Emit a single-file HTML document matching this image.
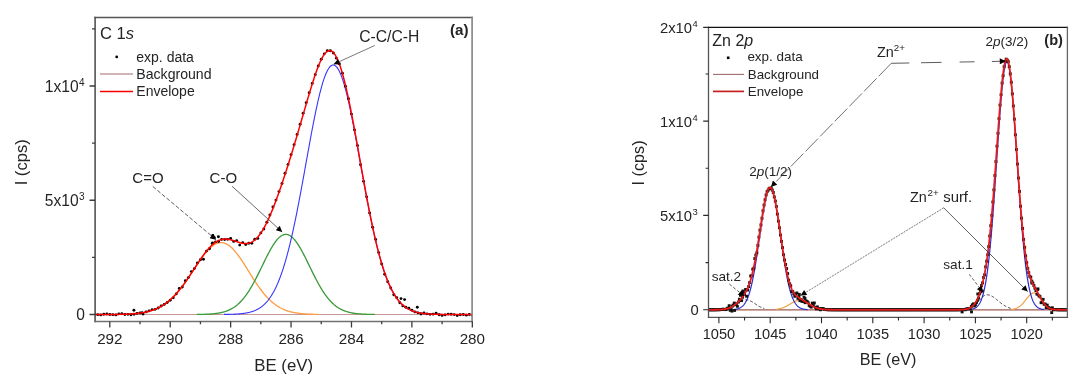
<!DOCTYPE html>
<html><head><meta charset="utf-8"><style>
html,body{margin:0;padding:0;background:#fff;}
body{width:1088px;height:384px;overflow:hidden;}
svg{display:block;filter:blur(0.3px);}
</style></head><body>
<svg width="1088" height="384" viewBox="0 0 1088 384"><defs><clipPath id="cl"><rect x="95.1" y="17.7" width="377.2" height="303.7"/></clipPath><clipPath id="cr"><rect x="708.5" y="27.4" width="358.9" height="289.9"/></clipPath><marker id="ah" viewBox="0 0 10 10" refX="10" refY="5" markerWidth="9" markerHeight="6" markerUnits="userSpaceOnUse" orient="auto"><path d="M0,0 L10,5 L0,10 z" fill="#000"/></marker></defs><g clip-path="url(#cl)"><line x1="95.1" y1="314.5" x2="472.3" y2="314.5" stroke="#c49a9a" stroke-width="1"/><path d="M125.2,314.23 L125.7,314.21 L126.2,314.19 L126.7,314.17 L127.2,314.15 L127.7,314.13 L128.2,314.11 L128.7,314.08 L129.2,314.06 L129.7,314.03 L130.2,314.01 L130.7,313.98 L131.2,313.95 L131.7,313.92 L132.2,313.88 L132.7,313.85 L133.2,313.81 L133.7,313.77 L134.2,313.73 L134.7,313.69 L135.2,313.65 L135.7,313.6 L136.2,313.55 L136.7,313.5 L137.2,313.45 L137.7,313.39 L138.2,313.34 L138.7,313.28 L139.2,313.21 L139.7,313.15 L140.2,313.08 L140.7,313.01 L141.2,312.94 L141.7,312.86 L142.2,312.78 L142.7,312.7 L143.2,312.61 L143.7,312.52 L144.2,312.42 L144.7,312.33 L145.2,312.23 L145.7,312.12 L146.2,312.01 L146.7,311.9 L147.2,311.78 L147.7,311.66 L148.2,311.53 L148.7,311.4 L149.2,311.27 L149.7,311.13 L150.2,310.98 L150.7,310.83 L151.2,310.68 L151.7,310.51 L152.2,310.35 L152.7,310.18 L153.2,310 L153.7,309.82 L154.2,309.63 L154.7,309.43 L155.2,309.23 L155.7,309.03 L156.2,308.81 L156.7,308.59 L157.2,308.37 L157.7,308.13 L158.2,307.89 L158.7,307.65 L159.2,307.39 L159.7,307.13 L160.2,306.86 L160.7,306.58 L161.2,306.3 L161.7,306.01 L162.2,305.71 L162.7,305.4 L163.2,305.09 L163.7,304.76 L164.2,304.43 L164.7,304.09 L165.2,303.74 L165.7,303.39 L166.2,303.02 L166.7,302.65 L167.2,302.26 L167.7,301.87 L168.2,301.47 L168.7,301.06 L169.2,300.64 L169.7,300.21 L170.2,299.78 L170.7,299.33 L171.2,298.87 L171.7,298.41 L172.2,297.94 L172.7,297.45 L173.2,296.96 L173.7,296.46 L174.2,295.95 L174.7,295.43 L175.2,294.89 L175.7,294.36 L176.2,293.81 L176.7,293.25 L177.2,292.68 L177.7,292.11 L178.2,291.52 L178.7,290.93 L179.2,290.32 L179.7,289.71 L180.2,289.09 L180.7,288.47 L181.2,287.83 L181.7,287.18 L182.2,286.53 L182.7,285.87 L183.2,285.2 L183.7,284.53 L184.2,283.84 L184.7,283.15 L185.2,282.46 L185.7,281.76 L186.2,281.05 L186.7,280.33 L187.2,279.61 L187.7,278.88 L188.2,278.15 L188.7,277.42 L189.2,276.68 L189.7,275.94 L190.2,275.19 L190.7,274.44 L191.2,273.69 L191.7,272.93 L192.2,272.17 L192.7,271.41 L193.2,270.65 L193.7,269.89 L194.2,269.13 L194.7,268.37 L195.2,267.62 L195.7,266.86 L196.2,266.1 L196.7,265.35 L197.2,264.6 L197.7,263.85 L198.2,263.11 L198.7,262.37 L199.2,261.64 L199.7,260.91 L200.2,260.19 L200.7,259.47 L201.2,258.77 L201.7,258.07 L202.2,257.38 L202.7,256.7 L203.2,256.02 L203.7,255.36 L204.2,254.71 L204.7,254.07 L205.2,253.45 L205.7,252.83 L206.2,252.23 L206.7,251.64 L207.2,251.07 L207.7,250.51 L208.2,249.97 L208.7,249.44 L209.2,248.93 L209.7,248.43 L210.2,247.96 L210.7,247.5 L211.2,247.05 L211.7,246.63 L212.2,246.23 L212.7,245.84 L213.2,245.48 L213.7,245.14 L214.2,244.81 L214.7,244.51 L215.2,244.23 L215.7,243.97 L216.2,243.73 L216.7,243.52 L217.2,243.33 L217.7,243.16 L218.2,243.01 L218.7,242.89 L219.2,242.79 L219.7,242.71 L220.2,242.66 L220.7,242.63 L221.2,242.62 L221.7,242.64 L222.2,242.68 L222.7,242.74 L223.2,242.83 L223.7,242.94 L224.2,243.08 L224.7,243.24 L225.2,243.42 L225.7,243.62 L226.2,243.85 L226.7,244.1 L227.2,244.38 L227.7,244.67 L228.2,244.99 L228.7,245.33 L229.2,245.69 L229.7,246.07 L230.2,246.47 L230.7,246.9 L231.2,247.34 L231.7,247.8 L232.2,248.28 L232.7,248.78 L233.2,249.3 L233.7,249.84 L234.2,250.39 L234.7,250.96 L235.2,251.55 L235.7,252.15 L236.2,252.77 L236.7,253.4 L237.2,254.04 L237.7,254.7 L238.2,255.38 L238.7,256.06 L239.2,256.76 L239.7,257.46 L240.2,258.18 L240.7,258.91 L241.2,259.64 L241.7,260.39 L242.2,261.14 L242.7,261.9 L243.2,262.67 L243.7,263.44 L244.2,264.22 L244.7,265.01 L245.2,265.8 L245.7,266.59 L246.2,267.38 L246.7,268.18 L247.2,268.98 L247.7,269.78 L248.2,270.59 L248.7,271.39 L249.2,272.19 L249.7,272.99 L250.2,273.79 L250.7,274.59 L251.2,275.39 L251.7,276.18 L252.2,276.97 L252.7,277.76 L253.2,278.54 L253.7,279.32 L254.2,280.09 L254.7,280.86 L255.2,281.62 L255.7,282.37 L256.2,283.12 L256.7,283.86 L257.2,284.6 L257.7,285.33 L258.2,286.04 L258.7,286.75 L259.2,287.46 L259.7,288.15 L260.2,288.83 L260.7,289.51 L261.2,290.18 L261.7,290.83 L262.2,291.48 L262.7,292.11 L263.2,292.74 L263.7,293.36 L264.2,293.96 L264.7,294.56 L265.2,295.14 L265.7,295.71 L266.2,296.28 L266.7,296.83 L267.2,297.37 L267.7,297.9 L268.2,298.42 L268.7,298.93 L269.2,299.43 L269.7,299.91 L270.2,300.39 L270.7,300.85 L271.2,301.31 L271.7,301.75 L272.2,302.18 L272.7,302.61 L273.2,303.02 L273.7,303.42 L274.2,303.81 L274.7,304.19 L275.2,304.56 L275.7,304.92 L276.2,305.27 L276.7,305.61 L277.2,305.94 L277.7,306.27 L278.2,306.58 L278.7,306.88 L279.2,307.17 L279.7,307.46 L280.2,307.74 L280.7,308 L281.2,308.26 L281.7,308.51 L282.2,308.76 L282.7,308.99 L283.2,309.22 L283.7,309.44 L284.2,309.65 L284.7,309.85 L285.2,310.05 L285.7,310.24 L286.2,310.43 L286.7,310.6 L287.2,310.77 L287.7,310.94 L288.2,311.1 L288.7,311.25 L289.2,311.4 L289.7,311.54 L290.2,311.67 L290.7,311.8 L291.2,311.93 L291.7,312.05 L292.2,312.16 L292.7,312.28 L293.2,312.38 L293.7,312.48 L294.2,312.58 L294.7,312.67 L295.2,312.76 L295.7,312.85 L296.2,312.93 L296.7,313.01 L297.2,313.09 L297.7,313.16 L298.2,313.23 L298.7,313.29 L299.2,313.35 L299.7,313.41 L300.2,313.47 L300.7,313.52 L301.2,313.58 L301.7,313.63 L302.2,313.67 L302.7,313.72 L303.2,313.76 L303.7,313.8 L304.2,313.84 L304.7,313.87 L305.2,313.91 L305.7,313.94 L306.2,313.97 L306.7,314 L307.2,314.03 L307.7,314.06 L308.2,314.08 L308.7,314.11 L309.2,314.13 L309.7,314.15 L310.2,314.17 L310.7,314.19 L311.2,314.21 L311.7,314.23 L312.2,314.24 L312.7,314.26 L313.2,314.27 L313.7,314.29 L314.2,314.3 L314.7,314.31 L315.2,314.32 L315.7,314.34 L316.2,314.35 L316.7,314.36 L317.2,314.36 L317.7,314.37" fill="none" stroke="#ff9a40" stroke-width="1.3"/><path d="M196.8,314.43 L197.3,314.43 L197.8,314.42 L198.3,314.42 L198.8,314.41 L199.3,314.4 L199.8,314.4 L200.3,314.39 L200.8,314.38 L201.3,314.37 L201.8,314.36 L202.3,314.35 L202.8,314.33 L203.3,314.32 L203.8,314.31 L204.3,314.29 L204.8,314.28 L205.3,314.26 L205.8,314.24 L206.3,314.22 L206.8,314.2 L207.3,314.18 L207.8,314.16 L208.3,314.14 L208.8,314.11 L209.3,314.08 L209.8,314.05 L210.3,314.02 L210.8,313.99 L211.3,313.95 L211.8,313.91 L212.3,313.87 L212.8,313.83 L213.3,313.78 L213.8,313.74 L214.3,313.69 L214.8,313.63 L215.3,313.58 L215.8,313.52 L216.3,313.45 L216.8,313.38 L217.3,313.31 L217.8,313.24 L218.3,313.16 L218.8,313.08 L219.3,312.99 L219.8,312.9 L220.3,312.8 L220.8,312.7 L221.3,312.59 L221.8,312.47 L222.3,312.35 L222.8,312.23 L223.3,312.1 L223.8,311.96 L224.3,311.81 L224.8,311.66 L225.3,311.5 L225.8,311.34 L226.3,311.16 L226.8,310.98 L227.3,310.79 L227.8,310.59 L228.3,310.38 L228.8,310.17 L229.3,309.94 L229.8,309.7 L230.3,309.46 L230.8,309.2 L231.3,308.93 L231.8,308.66 L232.3,308.37 L232.8,308.07 L233.3,307.75 L233.8,307.43 L234.3,307.09 L234.8,306.75 L235.3,306.38 L235.8,306.01 L236.3,305.62 L236.8,305.22 L237.3,304.81 L237.8,304.38 L238.3,303.93 L238.8,303.47 L239.3,303 L239.8,302.51 L240.3,302.01 L240.8,301.49 L241.3,300.96 L241.8,300.41 L242.3,299.85 L242.8,299.27 L243.3,298.67 L243.8,298.06 L244.3,297.43 L244.8,296.79 L245.3,296.13 L245.8,295.45 L246.3,294.76 L246.8,294.05 L247.3,293.33 L247.8,292.59 L248.3,291.83 L248.8,291.06 L249.3,290.28 L249.8,289.48 L250.3,288.66 L250.8,287.83 L251.3,286.98 L251.8,286.13 L252.3,285.25 L252.8,284.37 L253.3,283.47 L253.8,282.56 L254.3,281.63 L254.8,280.7 L255.3,279.75 L255.8,278.79 L256.3,277.83 L256.8,276.85 L257.3,275.87 L257.8,274.88 L258.3,273.88 L258.8,272.87 L259.3,271.86 L259.8,270.84 L260.3,269.82 L260.8,268.8 L261.3,267.77 L261.8,266.74 L262.3,265.71 L262.8,264.68 L263.3,263.65 L263.8,262.63 L264.3,261.61 L264.8,260.59 L265.3,259.57 L265.8,258.57 L266.3,257.56 L266.8,256.57 L267.3,255.59 L267.8,254.62 L268.3,253.65 L268.8,252.7 L269.3,251.77 L269.8,250.85 L270.3,249.94 L270.8,249.05 L271.3,248.18 L271.8,247.32 L272.3,246.49 L272.8,245.68 L273.3,244.88 L273.8,244.11 L274.3,243.37 L274.8,242.64 L275.3,241.95 L275.8,241.28 L276.3,240.63 L276.8,240.02 L277.3,239.43 L277.8,238.87 L278.3,238.34 L278.8,237.85 L279.3,237.38 L279.8,236.95 L280.3,236.55 L280.8,236.18 L281.3,235.84 L281.8,235.54 L282.3,235.28 L282.8,235.04 L283.3,234.85 L283.8,234.69 L284.3,234.56 L284.8,234.47 L285.3,234.42 L285.8,234.4 L286.3,234.42 L286.8,234.47 L287.3,234.56 L287.8,234.69 L288.3,234.85 L288.8,235.04 L289.3,235.28 L289.8,235.54 L290.3,235.84 L290.8,236.18 L291.3,236.55 L291.8,236.95 L292.3,237.38 L292.8,237.85 L293.3,238.34 L293.8,238.87 L294.3,239.43 L294.8,240.02 L295.3,240.63 L295.8,241.28 L296.3,241.95 L296.8,242.64 L297.3,243.37 L297.8,244.11 L298.3,244.88 L298.8,245.68 L299.3,246.49 L299.8,247.32 L300.3,248.18 L300.8,249.05 L301.3,249.94 L301.8,250.85 L302.3,251.77 L302.8,252.7 L303.3,253.65 L303.8,254.62 L304.3,255.59 L304.8,256.57 L305.3,257.56 L305.8,258.57 L306.3,259.57 L306.8,260.59 L307.3,261.61 L307.8,262.63 L308.3,263.65 L308.8,264.68 L309.3,265.71 L309.8,266.74 L310.3,267.77 L310.8,268.8 L311.3,269.82 L311.8,270.84 L312.3,271.86 L312.8,272.87 L313.3,273.88 L313.8,274.88 L314.3,275.87 L314.8,276.85 L315.3,277.83 L315.8,278.79 L316.3,279.75 L316.8,280.7 L317.3,281.63 L317.8,282.56 L318.3,283.47 L318.8,284.37 L319.3,285.25 L319.8,286.13 L320.3,286.98 L320.8,287.83 L321.3,288.66 L321.8,289.48 L322.3,290.28 L322.8,291.06 L323.3,291.83 L323.8,292.59 L324.3,293.33 L324.8,294.05 L325.3,294.76 L325.8,295.45 L326.3,296.13 L326.8,296.79 L327.3,297.43 L327.8,298.06 L328.3,298.67 L328.8,299.27 L329.3,299.85 L329.8,300.41 L330.3,300.96 L330.8,301.49 L331.3,302.01 L331.8,302.51 L332.3,303 L332.8,303.47 L333.3,303.93 L333.8,304.38 L334.3,304.81 L334.8,305.22 L335.3,305.62 L335.8,306.01 L336.3,306.38 L336.8,306.75 L337.3,307.09 L337.8,307.43 L338.3,307.75 L338.8,308.07 L339.3,308.37 L339.8,308.66 L340.3,308.93 L340.8,309.2 L341.3,309.46 L341.8,309.7 L342.3,309.94 L342.8,310.17 L343.3,310.38 L343.8,310.59 L344.3,310.79 L344.8,310.98 L345.3,311.16 L345.8,311.34 L346.3,311.5 L346.8,311.66 L347.3,311.81 L347.8,311.96 L348.3,312.1 L348.8,312.23 L349.3,312.35 L349.8,312.47 L350.3,312.59 L350.8,312.7 L351.3,312.8 L351.8,312.9 L352.3,312.99 L352.8,313.08 L353.3,313.16 L353.8,313.24 L354.3,313.31 L354.8,313.38 L355.3,313.45 L355.8,313.52 L356.3,313.58 L356.8,313.63 L357.3,313.69 L357.8,313.74 L358.3,313.78 L358.8,313.83 L359.3,313.87 L359.8,313.91 L360.3,313.95 L360.8,313.99 L361.3,314.02 L361.8,314.05 L362.3,314.08 L362.8,314.11 L363.3,314.14 L363.8,314.16 L364.3,314.18 L364.8,314.2 L365.3,314.22 L365.8,314.24 L366.3,314.26 L366.8,314.28 L367.3,314.29 L367.8,314.31 L368.3,314.32 L368.8,314.33 L369.3,314.35 L369.8,314.36 L370.3,314.37 L370.8,314.38 L371.3,314.39 L371.8,314.4 L372.3,314.4 L372.8,314.41 L373.3,314.42 L373.8,314.42 L374.3,314.43 L374.8,314.43" fill="none" stroke="#379a37" stroke-width="1.3"/><path d="M224,314.42 L224.5,314.42 L225,314.41 L225.5,314.4 L226,314.39 L226.5,314.39 L227,314.38 L227.5,314.37 L228,314.36 L228.5,314.35 L229,314.34 L229.5,314.33 L230,314.31 L230.5,314.3 L231,314.29 L231.5,314.27 L232,314.25 L232.5,314.24 L233,314.22 L233.5,314.2 L234,314.18 L234.5,314.15 L235,314.13 L235.5,314.11 L236,314.08 L236.5,314.05 L237,314.02 L237.5,313.99 L238,313.95 L238.5,313.92 L239,313.88 L239.5,313.84 L240,313.8 L240.5,313.75 L241,313.7 L241.5,313.65 L242,313.6 L242.5,313.54 L243,313.48 L243.5,313.41 L244,313.35 L244.5,313.28 L245,313.2 L245.5,313.12 L246,313.04 L246.5,312.95 L247,312.85 L247.5,312.76 L248,312.65 L248.5,312.54 L249,312.43 L249.5,312.31 L250,312.18 L250.5,312.05 L251,311.91 L251.5,311.76 L252,311.6 L252.5,311.44 L253,311.27 L253.5,311.09 L254,310.9 L254.5,310.71 L255,310.5 L255.5,310.28 L256,310.06 L256.5,309.82 L257,309.57 L257.5,309.31 L258,309.04 L258.5,308.76 L259,308.46 L259.5,308.15 L260,307.83 L260.5,307.49 L261,307.14 L261.5,306.77 L262,306.39 L262.5,305.99 L263,305.57 L263.5,305.14 L264,304.69 L264.5,304.22 L265,303.74 L265.5,303.23 L266,302.71 L266.5,302.16 L267,301.59 L267.5,301.01 L268,300.4 L268.5,299.76 L269,299.11 L269.5,298.43 L270,297.72 L270.5,296.99 L271,296.24 L271.5,295.46 L272,294.65 L272.5,293.82 L273,292.95 L273.5,292.06 L274,291.14 L274.5,290.19 L275,289.21 L275.5,288.2 L276,287.16 L276.5,286.09 L277,284.98 L277.5,283.85 L278,282.68 L278.5,281.47 L279,280.23 L279.5,278.96 L280,277.65 L280.5,276.31 L281,274.93 L281.5,273.52 L282,272.07 L282.5,270.58 L283,269.06 L283.5,267.5 L284,265.9 L284.5,264.27 L285,262.6 L285.5,260.89 L286,259.14 L286.5,257.36 L287,255.53 L287.5,253.67 L288,251.78 L288.5,249.84 L289,247.87 L289.5,245.86 L290,243.82 L290.5,241.73 L291,239.62 L291.5,237.46 L292,235.27 L292.5,233.05 L293,230.79 L293.5,228.5 L294,226.18 L294.5,223.82 L295,221.44 L295.5,219.02 L296,216.57 L296.5,214.1 L297,211.59 L297.5,209.06 L298,206.5 L298.5,203.92 L299,201.32 L299.5,198.69 L300,196.04 L300.5,193.38 L301,190.69 L301.5,187.99 L302,185.27 L302.5,182.54 L303,179.8 L303.5,177.04 L304,174.28 L304.5,171.51 L305,168.73 L305.5,165.95 L306,163.17 L306.5,160.39 L307,157.61 L307.5,154.83 L308,152.06 L308.5,149.3 L309,146.55 L309.5,143.81 L310,141.08 L310.5,138.37 L311,135.68 L311.5,133.01 L312,130.36 L312.5,127.73 L313,125.13 L313.5,122.56 L314,120.02 L314.5,117.51 L315,115.04 L315.5,112.61 L316,110.21 L316.5,107.86 L317,105.55 L317.5,103.29 L318,101.07 L318.5,98.9 L319,96.79 L319.5,94.72 L320,92.72 L320.5,90.77 L321,88.88 L321.5,87.05 L322,85.28 L322.5,83.58 L323,81.94 L323.5,80.37 L324,78.87 L324.5,77.44 L325,76.08 L325.5,74.8 L326,73.59 L326.5,72.46 L327,71.4 L327.5,70.42 L328,69.52 L328.5,68.7 L329,67.96 L329.5,67.3 L330,66.72 L330.5,66.23 L331,65.81 L331.5,65.49 L332,65.24 L332.5,65.08 L333,65.01 L333.5,65.02 L334,65.11 L334.5,65.28 L335,65.55 L335.5,65.89 L336,66.32 L336.5,66.83 L337,67.42 L337.5,68.1 L338,68.85 L338.5,69.69 L339,70.61 L339.5,71.6 L340,72.68 L340.5,73.83 L341,75.05 L341.5,76.35 L342,77.72 L342.5,79.17 L343,80.68 L343.5,82.26 L344,83.91 L344.5,85.63 L345,87.41 L345.5,89.25 L346,91.15 L346.5,93.11 L347,95.13 L347.5,97.2 L348,99.33 L348.5,101.51 L349,103.73 L349.5,106.01 L350,108.33 L350.5,110.69 L351,113.09 L351.5,115.53 L352,118.01 L352.5,120.53 L353,123.07 L353.5,125.65 L354,128.25 L354.5,130.88 L355,133.54 L355.5,136.22 L356,138.91 L356.5,141.63 L357,144.36 L357.5,147.1 L358,149.85 L358.5,152.62 L359,155.39 L359.5,158.17 L360,160.95 L360.5,163.73 L361,166.51 L361.5,169.29 L362,172.06 L362.5,174.83 L363,177.59 L363.5,180.35 L364,183.09 L364.5,185.82 L365,188.53 L365.5,191.23 L366,193.91 L366.5,196.58 L367,199.22 L367.5,201.84 L368,204.44 L368.5,207.02 L369,209.57 L369.5,212.1 L370,214.59 L370.5,217.06 L371,219.51 L371.5,221.92 L372,224.3 L372.5,226.65 L373,228.96 L373.5,231.25 L374,233.5 L374.5,235.72 L375,237.9 L375.5,240.04 L376,242.15 L376.5,244.23 L377,246.27 L377.5,248.27 L378,250.23 L378.5,252.16 L379,254.05 L379.5,255.9 L380,257.72 L380.5,259.49 L381,261.23 L381.5,262.94 L382,264.6 L382.5,266.23 L383,267.82 L383.5,269.37 L384,270.88 L384.5,272.36 L385,273.81 L385.5,275.21 L386,276.58 L386.5,277.92 L387,279.22 L387.5,280.48 L388,281.72 L388.5,282.91 L389,284.08 L389.5,285.21 L390,286.31 L390.5,287.37 L391,288.41 L391.5,289.41 L392,290.38 L392.5,291.33 L393,292.24 L393.5,293.13 L394,293.98 L394.5,294.81 L395,295.62 L395.5,296.39 L396,297.14 L396.5,297.86 L397,298.56 L397.5,299.24 L398,299.89 L398.5,300.52 L399,301.12 L399.5,301.71 L400,302.27 L400.5,302.81 L401,303.33 L401.5,303.84 L402,304.32 L402.5,304.78 L403,305.23 L403.5,305.66 L404,306.07 L404.5,306.47 L405,306.84 L405.5,307.21 L406,307.56 L406.5,307.89 L407,308.21 L407.5,308.52 L408,308.81 L408.5,309.09 L409,309.36 L409.5,309.62 L410,309.87 L410.5,310.1 L411,310.33 L411.5,310.54 L412,310.75 L412.5,310.94 L413,311.13 L413.5,311.3 L414,311.47 L414.5,311.64 L415,311.79 L415.5,311.94 L416,312.07 L416.5,312.21 L417,312.33 L417.5,312.45 L418,312.57 L418.5,312.67 L419,312.78 L419.5,312.87 L420,312.97 L420.5,313.05 L421,313.14 L421.5,313.22 L422,313.29 L422.5,313.36 L423,313.43 L423.5,313.49 L424,313.55 L424.5,313.61 L425,313.66 L425.5,313.71 L426,313.76 L426.5,313.8 L427,313.85 L427.5,313.89 L428,313.93 L428.5,313.96 L429,313.99 L429.5,314.03 L430,314.06 L430.5,314.08 L431,314.11 L431.5,314.14 L432,314.16 L432.5,314.18 L433,314.2 L433.5,314.22 L434,314.24 L434.5,314.26 L435,314.27 L435.5,314.29 L436,314.3 L436.5,314.32 L437,314.33 L437.5,314.34 L438,314.35 L438.5,314.36 L439,314.37 L439.5,314.38 L440,314.39 L440.5,314.4 L441,314.4 L441.5,314.41 L442,314.42" fill="none" stroke="#3535ff" stroke-width="1.1"/><g fill="#000"><circle cx="94.69" cy="314" r="1.45"/><circle cx="97.72" cy="314.65" r="1.45"/><circle cx="100.74" cy="314.9" r="1.45"/><circle cx="103.76" cy="314.27" r="1.45"/><circle cx="106.78" cy="313.93" r="1.45"/><circle cx="109.8" cy="314.44" r="1.45"/><circle cx="112.82" cy="314.65" r="1.45"/><circle cx="115.84" cy="314.89" r="1.45"/><circle cx="118.86" cy="313.84" r="1.45"/><circle cx="121.88" cy="313.74" r="1.45"/><circle cx="124.91" cy="314.56" r="1.45"/><circle cx="127.93" cy="314.34" r="1.45"/><circle cx="130.95" cy="314.7" r="1.45"/><circle cx="133.97" cy="314.24" r="1.45"/><circle cx="136.99" cy="313.42" r="1.45"/><circle cx="140.01" cy="312.96" r="1.45"/><circle cx="143.03" cy="314.05" r="1.45"/><circle cx="146.05" cy="311.88" r="1.45"/><circle cx="149.07" cy="310.83" r="1.45"/><circle cx="152.09" cy="309.67" r="1.45"/><circle cx="155.12" cy="309.33" r="1.45"/><circle cx="158.14" cy="308.02" r="1.45"/><circle cx="161.16" cy="306.07" r="1.45"/><circle cx="164.18" cy="304.39" r="1.45"/><circle cx="167.2" cy="302.46" r="1.45"/><circle cx="170.22" cy="300.3" r="1.45"/><circle cx="173.24" cy="297.83" r="1.45"/><circle cx="176.26" cy="293.88" r="1.45"/><circle cx="179.28" cy="288.48" r="1.45"/><circle cx="182.3" cy="287" r="1.45"/><circle cx="185.33" cy="280.72" r="1.45"/><circle cx="188.35" cy="277.62" r="1.45"/><circle cx="191.37" cy="271.62" r="1.45"/><circle cx="194.39" cy="268.61" r="1.45"/><circle cx="197.41" cy="263.04" r="1.45"/><circle cx="200.43" cy="259.69" r="1.45"/><circle cx="203.45" cy="259.24" r="1.45"/><circle cx="206.47" cy="251.09" r="1.45"/><circle cx="209.49" cy="248.73" r="1.45"/><circle cx="212.51" cy="242.9" r="1.45"/><circle cx="215.54" cy="241.89" r="1.45"/><circle cx="218.56" cy="241.45" r="1.45"/><circle cx="221.58" cy="239.38" r="1.45"/><circle cx="224.6" cy="239.57" r="1.45"/><circle cx="227.62" cy="239.34" r="1.45"/><circle cx="230.64" cy="238.42" r="1.45"/><circle cx="233.66" cy="241.41" r="1.45"/><circle cx="236.68" cy="240.58" r="1.45"/><circle cx="239.7" cy="245.11" r="1.45"/><circle cx="242.72" cy="242.64" r="1.45"/><circle cx="245.75" cy="244.46" r="1.45"/><circle cx="248.77" cy="243.18" r="1.45"/><circle cx="251.79" cy="243.3" r="1.45"/><circle cx="254.81" cy="239.18" r="1.45"/><circle cx="257.83" cy="238.38" r="1.45"/><circle cx="260.85" cy="232.9" r="1.45"/><circle cx="263.87" cy="228.97" r="1.45"/><circle cx="266.89" cy="222.3" r="1.45"/><circle cx="269.91" cy="215.02" r="1.45"/><circle cx="272.93" cy="207.06" r="1.45"/><circle cx="275.96" cy="200.12" r="1.45"/><circle cx="278.98" cy="191.59" r="1.45"/><circle cx="282" cy="183.54" r="1.45"/><circle cx="285.02" cy="173.24" r="1.45"/><circle cx="288.04" cy="164.41" r="1.45"/><circle cx="291.06" cy="154.74" r="1.45"/><circle cx="294.08" cy="144.71" r="1.45"/><circle cx="297.1" cy="134.55" r="1.45"/><circle cx="300.12" cy="124.22" r="1.45"/><circle cx="303.14" cy="113.32" r="1.45"/><circle cx="306.17" cy="102.63" r="1.45"/><circle cx="309.19" cy="92.71" r="1.45"/><circle cx="312.21" cy="83.38" r="1.45"/><circle cx="315.23" cy="74.66" r="1.45"/><circle cx="318.25" cy="66.06" r="1.45"/><circle cx="321.27" cy="59.19" r="1.45"/><circle cx="324.29" cy="53.86" r="1.45"/><circle cx="327.31" cy="50.76" r="1.45"/><circle cx="330.33" cy="50.79" r="1.45"/><circle cx="333.35" cy="53.03" r="1.45"/><circle cx="336.38" cy="58.13" r="1.45"/><circle cx="339.4" cy="63.91" r="1.45"/><circle cx="342.42" cy="73.13" r="1.45"/><circle cx="345.44" cy="86.3" r="1.45"/><circle cx="348.46" cy="98.71" r="1.45"/><circle cx="351.48" cy="114.08" r="1.45"/><circle cx="354.5" cy="130.07" r="1.45"/><circle cx="357.52" cy="145.62" r="1.45"/><circle cx="360.54" cy="164.8" r="1.45"/><circle cx="363.56" cy="181.34" r="1.45"/><circle cx="366.59" cy="196.85" r="1.45"/><circle cx="369.61" cy="212.9" r="1.45"/><circle cx="372.63" cy="227.3" r="1.45"/><circle cx="375.65" cy="239.4" r="1.45"/><circle cx="378.67" cy="252.61" r="1.45"/><circle cx="381.69" cy="263.98" r="1.45"/><circle cx="384.71" cy="274.19" r="1.45"/><circle cx="387.73" cy="281.78" r="1.45"/><circle cx="390.75" cy="287.95" r="1.45"/><circle cx="393.77" cy="294.82" r="1.45"/><circle cx="396.8" cy="297.64" r="1.45"/><circle cx="399.82" cy="302.69" r="1.45"/><circle cx="402.84" cy="305.91" r="1.45"/><circle cx="405.86" cy="307.26" r="1.45"/><circle cx="408.88" cy="308.13" r="1.45"/><circle cx="411.9" cy="310.15" r="1.45"/><circle cx="414.92" cy="311.9" r="1.45"/><circle cx="417.94" cy="312.85" r="1.45"/><circle cx="420.96" cy="313.95" r="1.45"/><circle cx="423.98" cy="313.04" r="1.45"/><circle cx="427.01" cy="313.85" r="1.45"/><circle cx="430.03" cy="314.36" r="1.45"/><circle cx="433.05" cy="314.13" r="1.45"/><circle cx="436.07" cy="313.24" r="1.45"/><circle cx="439.09" cy="314.73" r="1.45"/><circle cx="442.11" cy="315.42" r="1.45"/><circle cx="445.13" cy="314.87" r="1.45"/><circle cx="448.15" cy="314.08" r="1.45"/><circle cx="451.17" cy="314.31" r="1.45"/><circle cx="454.19" cy="314.58" r="1.45"/><circle cx="457.22" cy="315.51" r="1.45"/><circle cx="460.24" cy="314.75" r="1.45"/><circle cx="463.26" cy="314.54" r="1.45"/><circle cx="466.28" cy="315.13" r="1.45"/><circle cx="469.3" cy="314.47" r="1.45"/><circle cx="472.32" cy="315.25" r="1.45"/><circle cx="212.7" cy="235.4" r="1.45"/><circle cx="214.3" cy="237.6" r="1.45"/><circle cx="218.4" cy="236.8" r="1.45"/><circle cx="212.2" cy="243.6" r="1.45"/><circle cx="133.9" cy="310.3" r="1.45"/><circle cx="142" cy="312.6" r="1.45"/><circle cx="401" cy="298.6" r="1.45"/><circle cx="404.6" cy="299.6" r="1.45"/><circle cx="417.3" cy="307.3" r="1.45"/></g><path d="M95.1,314.5 L95.6,314.5 L96.1,314.5 L96.6,314.5 L97.1,314.5 L97.6,314.5 L98.1,314.49 L98.6,314.49 L99.1,314.49 L99.6,314.49 L100.1,314.49 L100.6,314.49 L101.1,314.49 L101.6,314.49 L102.1,314.49 L102.6,314.49 L103.1,314.49 L103.6,314.49 L104.1,314.49 L104.6,314.48 L105.1,314.48 L105.6,314.48 L106.1,314.48 L106.6,314.48 L107.1,314.48 L107.6,314.48 L108.1,314.47 L108.6,314.47 L109.1,314.47 L109.6,314.47 L110.1,314.46 L110.6,314.46 L111.1,314.46 L111.6,314.46 L112.1,314.45 L112.6,314.45 L113.1,314.44 L113.6,314.44 L114.1,314.44 L114.6,314.43 L115.1,314.43 L115.6,314.42 L116.1,314.42 L116.6,314.41 L117.1,314.4 L117.6,314.4 L118.1,314.39 L118.6,314.38 L119.1,314.37 L119.6,314.36 L120.1,314.36 L120.6,314.35 L121.1,314.34 L121.6,314.32 L122.1,314.31 L122.6,314.3 L123.1,314.29 L123.6,314.27 L124.1,314.26 L124.6,314.24 L125.1,314.23 L125.6,314.21 L126.1,314.19 L126.6,314.18 L127.1,314.16 L127.6,314.13 L128.1,314.11 L128.6,314.09 L129.1,314.06 L129.6,314.04 L130.1,314.01 L130.6,313.98 L131.1,313.95 L131.6,313.92 L132.1,313.89 L132.6,313.85 L133.1,313.82 L133.6,313.78 L134.1,313.74 L134.6,313.7 L135.1,313.65 L135.6,313.61 L136.1,313.56 L136.6,313.51 L137.1,313.46 L137.6,313.4 L138.1,313.35 L138.6,313.29 L139.1,313.23 L139.6,313.16 L140.1,313.09 L140.6,313.02 L141.1,312.95 L141.6,312.87 L142.1,312.79 L142.6,312.71 L143.1,312.62 L143.6,312.54 L144.1,312.44 L144.6,312.35 L145.1,312.24 L145.6,312.14 L146.1,312.03 L146.6,311.92 L147.1,311.8 L147.6,311.68 L148.1,311.56 L148.6,311.43 L149.1,311.29 L149.6,311.15 L150.1,311.01 L150.6,310.86 L151.1,310.7 L151.6,310.54 L152.1,310.38 L152.6,310.21 L153.1,310.03 L153.6,309.85 L154.1,309.66 L154.6,309.47 L155.1,309.27 L155.6,309.06 L156.1,308.85 L156.6,308.63 L157.1,308.41 L157.6,308.17 L158.1,307.93 L158.6,307.69 L159.1,307.43 L159.6,307.17 L160.1,306.91 L160.6,306.63 L161.1,306.35 L161.6,306.06 L162.1,305.76 L162.6,305.45 L163.1,305.14 L163.6,304.82 L164.1,304.49 L164.6,304.15 L165.1,303.8 L165.6,303.44 L166.1,303.08 L166.6,302.7 L167.1,302.32 L167.6,301.93 L168.1,301.53 L168.6,301.12 L169.1,300.7 L169.6,300.28 L170.1,299.84 L170.6,299.39 L171.1,298.94 L171.6,298.48 L172.1,298 L172.6,297.52 L173.1,297.03 L173.6,296.52 L174.1,296.01 L174.6,295.49 L175.1,294.96 L175.6,294.42 L176.1,293.87 L176.6,293.32 L177.1,292.75 L177.6,292.17 L178.1,291.59 L178.6,290.99 L179.1,290.39 L179.6,289.77 L180.1,289.15 L180.6,288.52 L181.1,287.88 L181.6,287.24 L182.1,286.58 L182.6,285.92 L183.1,285.25 L183.6,284.57 L184.1,283.89 L184.6,283.19 L185.1,282.49 L185.6,281.79 L186.1,281.07 L186.6,280.35 L187.1,279.63 L187.6,278.9 L188.1,278.16 L188.6,277.42 L189.1,276.68 L189.6,275.93 L190.1,275.17 L190.6,274.42 L191.1,273.65 L191.6,272.89 L192.1,272.13 L192.6,271.36 L193.1,270.59 L193.6,269.82 L194.1,269.05 L194.6,268.28 L195.1,267.51 L195.6,266.73 L196.1,265.97 L196.6,265.2 L197.1,264.43 L197.6,263.67 L198.1,262.91 L198.6,262.16 L199.1,261.4 L199.6,260.66 L200.1,259.92 L200.6,259.18 L201.1,258.45 L201.6,257.73 L202.1,257.01 L202.6,256.31 L203.1,255.61 L203.6,254.92 L204.1,254.24 L204.6,253.57 L205.1,252.91 L205.6,252.26 L206.1,251.62 L206.6,251 L207.1,250.38 L207.6,249.78 L208.1,249.2 L208.6,248.62 L209.1,248.06 L209.6,247.52 L210.1,246.99 L210.6,246.47 L211.1,245.97 L211.6,245.49 L212.1,245.02 L212.6,244.57 L213.1,244.14 L213.6,243.72 L214.1,243.33 L214.6,242.94 L215.1,242.58 L215.6,242.24 L216.1,241.91 L216.6,241.6 L217.1,241.31 L217.6,241.03 L218.1,240.78 L218.6,240.54 L219.1,240.32 L219.6,240.12 L220.1,239.94 L220.6,239.77 L221.1,239.63 L221.6,239.5 L222.1,239.38 L222.6,239.29 L223.1,239.21 L223.6,239.15 L224.1,239.1 L224.6,239.07 L225.1,239.06 L225.6,239.06 L226.1,239.07 L226.6,239.1 L227.1,239.14 L227.6,239.2 L228.1,239.27 L228.6,239.35 L229.1,239.44 L229.6,239.54 L230.1,239.65 L230.6,239.77 L231.1,239.9 L231.6,240.03 L232.1,240.17 L232.6,240.32 L233.1,240.48 L233.6,240.64 L234.1,240.8 L234.6,240.96 L235.1,241.13 L235.6,241.3 L236.1,241.47 L236.6,241.64 L237.1,241.81 L237.6,241.97 L238.1,242.13 L238.6,242.29 L239.1,242.44 L239.6,242.59 L240.1,242.73 L240.6,242.86 L241.1,242.98 L241.6,243.09 L242.1,243.2 L242.6,243.29 L243.1,243.37 L243.6,243.44 L244.1,243.49 L244.6,243.53 L245.1,243.55 L245.6,243.56 L246.1,243.55 L246.6,243.52 L247.1,243.47 L247.6,243.41 L248.1,243.32 L248.6,243.21 L249.1,243.09 L249.6,242.94 L250.1,242.77 L250.6,242.58 L251.1,242.36 L251.6,242.12 L252.1,241.86 L252.6,241.57 L253.1,241.26 L253.6,240.92 L254.1,240.55 L254.6,240.16 L255.1,239.75 L255.6,239.31 L256.1,238.84 L256.6,238.35 L257.1,237.82 L257.6,237.28 L258.1,236.7 L258.6,236.1 L259.1,235.47 L259.6,234.82 L260.1,234.14 L260.6,233.43 L261.1,232.7 L261.6,231.94 L262.1,231.16 L262.6,230.35 L263.1,229.51 L263.6,228.65 L264.1,227.77 L264.6,226.86 L265.1,225.93 L265.6,224.97 L266.1,223.99 L266.6,222.99 L267.1,221.97 L267.6,220.92 L268.1,219.85 L268.6,218.77 L269.1,217.66 L269.6,216.53 L270.1,215.38 L270.6,214.21 L271.1,213.03 L271.6,211.83 L272.1,210.6 L272.6,209.37 L273.1,208.11 L273.6,206.84 L274.1,205.56 L274.6,204.26 L275.1,202.94 L275.6,201.61 L276.1,200.27 L276.6,198.92 L277.1,197.55 L277.6,196.17 L278.1,194.77 L278.6,193.37 L279.1,191.96 L279.6,190.53 L280.1,189.09 L280.6,187.65 L281.1,186.19 L281.6,184.72 L282.1,183.25 L282.6,181.76 L283.1,180.27 L283.6,178.77 L284.1,177.26 L284.6,175.74 L285.1,174.21 L285.6,172.68 L286.1,171.13 L286.6,169.58 L287.1,168.03 L287.6,166.46 L288.1,164.89 L288.6,163.31 L289.1,161.72 L289.6,160.13 L290.1,158.53 L290.6,156.92 L291.1,155.31 L291.6,153.68 L292.1,152.06 L292.6,150.42 L293.1,148.78 L293.6,147.13 L294.1,145.48 L294.6,143.82 L295.1,142.15 L295.6,140.48 L296.1,138.8 L296.6,137.12 L297.1,135.43 L297.6,133.73 L298.1,132.03 L298.6,130.33 L299.1,128.62 L299.6,126.91 L300.1,125.19 L300.6,123.47 L301.1,121.75 L301.6,120.02 L302.1,118.29 L302.6,116.56 L303.1,114.83 L303.6,113.1 L304.1,111.37 L304.6,109.64 L305.1,107.91 L305.6,106.18 L306.1,104.46 L306.6,102.74 L307.1,101.03 L307.6,99.32 L308.1,97.61 L308.6,95.92 L309.1,94.23 L309.6,92.56 L310.1,90.89 L310.6,89.24 L311.1,87.6 L311.6,85.97 L312.1,84.36 L312.6,82.77 L313.1,81.2 L313.6,79.65 L314.1,78.12 L314.6,76.61 L315.1,75.13 L315.6,73.67 L316.1,72.24 L316.6,70.85 L317.1,69.48 L317.6,68.15 L318.1,66.85 L318.6,65.59 L319.1,64.37 L319.6,63.19 L320.1,62.05 L320.6,60.95 L321.1,59.9 L321.6,58.9 L322.1,57.95 L322.6,57.05 L323.1,56.2 L323.6,55.4 L324.1,54.66 L324.6,53.98 L325.1,53.36 L325.6,52.8 L326.1,52.29 L326.6,51.86 L327.1,51.48 L327.6,51.17 L328.1,50.93 L328.6,50.75 L329.1,50.65 L329.6,50.61 L330.1,50.64 L330.6,50.74 L331.1,50.91 L331.6,51.15 L332.1,51.47 L332.6,51.85 L333.1,52.31 L333.6,52.84 L334.1,53.44 L334.6,54.11 L335.1,54.85 L335.6,55.66 L336.1,56.55 L336.6,57.5 L337.1,58.53 L337.6,59.62 L338.1,60.78 L338.6,62.01 L339.1,63.31 L339.6,64.67 L340.1,66.1 L340.6,67.6 L341.1,69.15 L341.6,70.77 L342.1,72.45 L342.6,74.19 L343.1,75.98 L343.6,77.84 L344.1,79.75 L344.6,81.71 L345.1,83.73 L345.6,85.8 L346.1,87.92 L346.6,90.09 L347.1,92.31 L347.6,94.57 L348.1,96.88 L348.6,99.23 L349.1,101.62 L349.6,104.05 L350.1,106.51 L350.6,109.02 L351.1,111.55 L351.6,114.12 L352.1,116.72 L352.6,119.34 L353.1,121.99 L353.6,124.67 L354.1,127.37 L354.6,130.09 L355.1,132.83 L355.6,135.59 L356.1,138.36 L356.6,141.14 L357.1,143.94 L357.6,146.74 L358.1,149.55 L358.6,152.37 L359.1,155.19 L359.6,158.02 L360.1,160.84 L360.6,163.67 L361.1,166.49 L361.6,169.3 L362.1,172.11 L362.6,174.91 L363.1,177.7 L363.6,180.48 L364.1,183.24 L364.6,186 L365.1,188.73 L365.6,191.45 L366.1,194.15 L366.6,196.83 L367.1,199.49 L367.6,202.12 L368.1,204.73 L368.6,207.32 L369.1,209.88 L369.6,212.41 L370.1,214.92 L370.6,217.4 L371.1,219.84 L371.6,222.26 L372.1,224.64 L372.6,226.99 L373.1,229.31 L373.6,231.6 L374.1,233.85 L374.6,236.06 L375.1,238.25 L375.6,240.39 L376.1,242.5 L376.6,244.57 L377.1,246.61 L377.6,248.61 L378.1,250.57 L378.6,252.49 L379.1,254.38 L379.6,256.22 L380.1,258.03 L380.6,259.81 L381.1,261.54 L381.6,263.24 L382.1,264.9 L382.6,266.52 L383.1,268.1 L383.6,269.65 L384.1,271.16 L384.6,272.64 L385.1,274.07 L385.6,275.47 L386.1,276.84 L386.6,278.17 L387.1,279.46 L387.6,280.72 L388.1,281.95 L388.6,283.14 L389.1,284.3 L389.6,285.42 L390.1,286.51 L390.6,287.57 L391.1,288.6 L391.6,289.6 L392.1,290.57 L392.6,291.51 L393.1,292.42 L393.6,293.3 L394.1,294.15 L394.6,294.97 L395.1,295.77 L395.6,296.54 L396.1,297.28 L396.6,298 L397.1,298.7 L397.6,299.37 L398.1,300.02 L398.6,300.64 L399.1,301.24 L399.6,301.82 L400.1,302.38 L400.6,302.92 L401.1,303.43 L401.6,303.93 L402.1,304.41 L402.6,304.87 L403.1,305.32 L403.6,305.74 L404.1,306.15 L404.6,306.54 L405.1,306.92 L405.6,307.28 L406.1,307.62 L406.6,307.96 L407.1,308.27 L407.6,308.58 L408.1,308.87 L408.6,309.15 L409.1,309.42 L409.6,309.67 L410.1,309.91 L410.6,310.15 L411.1,310.37 L411.6,310.58 L412.1,310.78 L412.6,310.98 L413.1,311.16 L413.6,311.34 L414.1,311.51 L414.6,311.67 L415.1,311.82 L415.6,311.96 L416.1,312.1 L416.6,312.23 L417.1,312.36 L417.6,312.48 L418.1,312.59 L418.6,312.69 L419.1,312.8 L419.6,312.89 L420.1,312.98 L420.6,313.07 L421.1,313.15 L421.6,313.23 L422.1,313.3 L422.6,313.37 L423.1,313.44 L423.6,313.5 L424.1,313.56 L424.6,313.62 L425.1,313.67 L425.6,313.72 L426.1,313.77 L426.6,313.81 L427.1,313.86 L427.6,313.9 L428.1,313.93 L428.6,313.97 L429.1,314 L429.6,314.03 L430.1,314.06 L430.6,314.09 L431.1,314.12 L431.6,314.14 L432.1,314.16 L432.6,314.19 L433.1,314.21 L433.6,314.23 L434.1,314.24 L434.6,314.26 L435.1,314.28 L435.6,314.29 L436.1,314.31 L436.6,314.32 L437.1,314.33 L437.6,314.34 L438.1,314.35 L438.6,314.36 L439.1,314.37 L439.6,314.38 L440.1,314.39 L440.6,314.4 L441.1,314.4 L441.6,314.41 L442.1,314.42 L442.6,314.42 L443.1,314.43 L443.6,314.43 L444.1,314.44 L444.6,314.44 L445.1,314.45 L445.6,314.45 L446.1,314.45 L446.6,314.46 L447.1,314.46 L447.6,314.46 L448.1,314.47 L448.6,314.47 L449.1,314.47 L449.6,314.47 L450.1,314.48 L450.6,314.48 L451.1,314.48 L451.6,314.48 L452.1,314.48 L452.6,314.48 L453.1,314.48 L453.6,314.49 L454.1,314.49 L454.6,314.49 L455.1,314.49 L455.6,314.49 L456.1,314.49 L456.6,314.49 L457.1,314.49 L457.6,314.49 L458.1,314.49 L458.6,314.49 L459.1,314.49 L459.6,314.49 L460.1,314.5 L460.6,314.5 L461.1,314.5 L461.6,314.5 L462.1,314.5 L462.6,314.5 L463.1,314.5 L463.6,314.5 L464.1,314.5 L464.6,314.5 L465.1,314.5 L465.6,314.5 L466.1,314.5 L466.6,314.5 L467.1,314.5 L467.6,314.5 L468.1,314.5 L468.6,314.5 L469.1,314.5 L469.6,314.5 L470.1,314.5 L470.6,314.5 L471.1,314.5 L471.6,314.5 L472.1,314.5" fill="none" stroke="#ff0000" stroke-width="1.5" stroke-linejoin="round"/></g><path d="M95.1,16.8V322.3" stroke="#474747" stroke-width="1.5" fill="none"/><path d="M94.4,17.5H472.9" stroke="#555" stroke-width="1.5" fill="none"/><path d="M472.1,16.8V322.3" stroke="#8a8a8a" stroke-width="1.7" fill="none"/><path d="M94.4,321.6H472.9" stroke="#707070" stroke-width="1.5" fill="none"/><path d="M472.32,321.4V327.6M442.11,321.4V324.2M411.9,321.4V327.6M381.69,321.4V324.2M351.48,321.4V327.6M321.27,321.4V324.2M291.06,321.4V327.6M260.85,321.4V324.2M230.64,321.4V327.6M200.43,321.4V324.2M170.22,321.4V327.6M140.01,321.4V324.2M109.8,321.4V327.6M89.5,314.5H95.1M92.0,257.38H95.1M89.5,200.25H95.1M92.0,143.12H95.1M89.5,86H95.1M92.0,28.88H95.1" stroke="#3c3c3c" stroke-width="1.3" fill="none"/><g clip-path="url(#cr)"><line x1="708.9" y1="309.8" x2="1067.7" y2="309.8" stroke="#a05a50" stroke-width="1.2"/><path d="M1011.5,309.48 L1011.85,309.43 L1012.2,309.39 L1012.55,309.34 L1012.9,309.28 L1013.25,309.22 L1013.6,309.15 L1013.95,309.07 L1014.3,308.99 L1014.65,308.89 L1015,308.79 L1015.35,308.68 L1015.7,308.57 L1016.05,308.44 L1016.4,308.3 L1016.75,308.15 L1017.1,307.99 L1017.45,307.81 L1017.8,307.63 L1018.15,307.43 L1018.5,307.21 L1018.85,306.99 L1019.2,306.75 L1019.55,306.49 L1019.9,306.22 L1020.25,305.94 L1020.6,305.64 L1020.95,305.33 L1021.3,305.01 L1021.65,304.67 L1022,304.31 L1022.35,303.95 L1022.7,303.57 L1023.05,303.18 L1023.4,302.77 L1023.75,302.36 L1024.1,301.94 L1024.45,301.51 L1024.8,301.08 L1025.15,300.63 L1025.5,300.19 L1025.85,299.74 L1026.2,299.29 L1026.55,298.85 L1026.9,298.4 L1027.25,297.96 L1027.6,297.53 L1027.95,297.1 L1028.3,296.69 L1028.65,296.29 L1029,295.9 L1029.35,295.53 L1029.7,295.17 L1030.05,294.84 L1030.4,294.53 L1030.75,294.24 L1031.1,293.97 L1031.45,293.74 L1031.8,293.53 L1032.15,293.35 L1032.5,293.19 L1032.85,293.07 L1033.2,292.98 L1033.55,292.93 L1033.9,292.9 L1034.25,292.91 L1034.6,292.96 L1034.95,293.05 L1035.3,293.19 L1035.65,293.36 L1036,293.58 L1036.35,293.83 L1036.7,294.11 L1037.05,294.43 L1037.4,294.78 L1037.75,295.16 L1038.1,295.56 L1038.45,295.99 L1038.8,296.44 L1039.15,296.91 L1039.5,297.39 L1039.85,297.88 L1040.2,298.38 L1040.55,298.89 L1040.9,299.4 L1041.25,299.92 L1041.6,300.43 L1041.95,300.93 L1042.3,301.43 L1042.65,301.92 L1043,302.41 L1043.35,302.87 L1043.7,303.33 L1044.05,303.77 L1044.4,304.2 L1044.75,304.6 L1045.1,304.99 L1045.45,305.36 L1045.8,305.72 L1046.15,306.05 L1046.5,306.37 L1046.85,306.67 L1047.2,306.94 L1047.55,307.2 L1047.9,307.45 L1048.25,307.67 L1048.6,307.88 L1048.95,308.07 L1049.3,308.25 L1049.65,308.41 L1050,308.56 L1050.35,308.7 L1050.7,308.82 L1051.05,308.93 L1051.4,309.03 L1051.75,309.12 L1052.1,309.2 L1052.45,309.28 L1052.8,309.34 L1053.15,309.4 L1053.5,309.45 L1053.85,309.5 L1054.2,309.54 L1054.55,309.57 L1054.9,309.6 L1055.25,309.63 L1055.6,309.66 L1055.95,309.68" fill="none" stroke="#f0a040" stroke-width="1.2"/><path d="M776,309.36 L776.35,309.32 L776.7,309.27 L777.05,309.22 L777.4,309.17 L777.75,309.12 L778.1,309.06 L778.45,308.99 L778.8,308.92 L779.15,308.85 L779.5,308.78 L779.85,308.69 L780.2,308.61 L780.55,308.51 L780.9,308.42 L781.25,308.31 L781.6,308.21 L781.95,308.09 L782.3,307.97 L782.65,307.85 L783,307.72 L783.35,307.58 L783.7,307.44 L784.05,307.3 L784.4,307.14 L784.75,306.98 L785.1,306.82 L785.45,306.65 L785.8,306.48 L786.15,306.3 L786.5,306.11 L786.85,305.93 L787.2,305.73 L787.55,305.54 L787.9,305.34 L788.25,305.14 L788.6,304.93 L788.95,304.73 L789.3,304.52 L789.65,304.31 L790,304.1 L790.35,303.89 L790.7,303.68 L791.05,303.47 L791.4,303.26 L791.75,303.06 L792.1,302.86 L792.45,302.66 L792.8,302.47 L793.15,302.28 L793.5,302.1 L793.85,301.92 L794.2,301.75 L794.55,301.59 L794.9,301.44 L795.25,301.3 L795.6,301.16 L795.95,301.03 L796.3,300.92 L796.65,300.81 L797,300.72 L797.35,300.64 L797.7,300.57 L798.05,300.51 L798.4,300.46 L798.75,300.43 L799.1,300.41 L799.45,300.4 L799.8,300.4 L800.15,300.42 L800.5,300.45 L800.85,300.49 L801.2,300.55 L801.55,300.62 L801.9,300.7 L802.25,300.79 L802.6,300.89 L802.95,301 L803.3,301.12 L803.65,301.26 L804,301.4 L804.35,301.55 L804.7,301.71 L805.05,301.87 L805.4,302.05 L805.75,302.23 L806.1,302.42 L806.45,302.61 L806.8,302.8 L807.15,303 L807.5,303.21 L807.85,303.41 L808.2,303.62 L808.55,303.83 L808.9,304.04 L809.25,304.25 L809.6,304.46 L809.95,304.67 L810.3,304.87 L810.65,305.08 L811,305.28 L811.35,305.48 L811.7,305.68 L812.05,305.87 L812.4,306.06 L812.75,306.25 L813.1,306.43 L813.45,306.6 L813.8,306.77 L814.15,306.94 L814.5,307.1 L814.85,307.25 L815.2,307.4 L815.55,307.54 L815.9,307.68 L816.25,307.81 L816.6,307.94 L816.95,308.06 L817.3,308.18 L817.65,308.28 L818,308.39 L818.35,308.49 L818.7,308.58 L819.05,308.67 L819.4,308.75 L819.75,308.83 L820.1,308.9 L820.45,308.97 L820.8,309.04 L821.15,309.1 L821.5,309.16 L821.85,309.21 L822.2,309.26 L822.55,309.3 L822.9,309.35" fill="none" stroke="#f0a040" stroke-width="1.2"/><path d="M969.4,309.55 L969.75,309.51 L970.1,309.48 L970.45,309.43 L970.8,309.38 L971.15,309.33 L971.5,309.27 L971.85,309.2 L972.2,309.12 L972.55,309.04 L972.9,308.94 L973.25,308.84 L973.6,308.72 L973.95,308.59 L974.3,308.44 L974.65,308.28 L975,308.11 L975.35,307.91 L975.7,307.7 L976.05,307.46 L976.4,307.2 L976.75,306.92 L977.1,306.61 L977.45,306.27 L977.8,305.89 L978.15,305.49 L978.5,305.04 L978.85,304.56 L979.2,304.03 L979.55,303.46 L979.9,302.84 L980.25,302.17 L980.6,301.44 L980.95,300.66 L981.3,299.81 L981.65,298.9 L982,297.92 L982.35,296.87 L982.7,295.75 L983.05,294.54 L983.4,293.25 L983.75,291.87 L984.1,290.4 L984.45,288.83 L984.8,287.17 L985.15,285.4 L985.5,283.52 L985.85,281.54 L986.2,279.44 L986.55,277.22 L986.9,274.89 L987.25,272.43 L987.6,269.85 L987.95,267.14 L988.3,264.3 L988.65,261.33 L989,258.23 L989.35,255 L989.7,251.63 L990.05,248.13 L990.4,244.5 L990.75,240.74 L991.1,236.85 L991.45,232.83 L991.8,228.69 L992.15,224.43 L992.5,220.05 L992.85,215.56 L993.2,210.96 L993.55,206.27 L993.9,201.48 L994.25,196.61 L994.6,191.66 L994.95,186.64 L995.3,181.56 L995.65,176.44 L996,171.27 L996.35,166.08 L996.7,160.87 L997.05,155.66 L997.4,150.46 L997.75,145.27 L998.1,140.13 L998.45,135.03 L998.8,130 L999.15,125.04 L999.5,120.18 L999.85,115.42 L1000.2,110.78 L1000.55,106.28 L1000.9,101.92 L1001.25,97.72 L1001.6,93.7 L1001.95,89.87 L1002.3,86.23 L1002.65,82.81 L1003,79.62 L1003.35,76.66 L1003.7,73.94 L1004.05,71.48 L1004.4,69.28 L1004.75,67.36 L1005.1,65.71 L1005.45,64.34 L1005.8,63.27 L1006.15,62.48 L1006.5,61.99 L1006.85,61.8 L1007.2,61.91 L1007.55,62.31 L1007.9,63.01 L1008.25,64.01 L1008.6,65.29 L1008.95,66.86 L1009.3,68.7 L1009.65,70.82 L1010,73.21 L1010.35,75.85 L1010.7,78.75 L1011.05,81.88 L1011.4,85.23 L1011.75,88.81 L1012.1,92.58 L1012.45,96.55 L1012.8,100.7 L1013.15,105.01 L1013.5,109.48 L1013.85,114.08 L1014.2,118.81 L1014.55,123.64 L1014.9,128.58 L1015.25,133.59 L1015.6,138.67 L1015.95,143.8 L1016.3,148.97 L1016.65,154.17 L1017,159.38 L1017.35,164.59 L1017.7,169.79 L1018.05,174.96 L1018.4,180.1 L1018.75,185.19 L1019.1,190.23 L1019.45,195.2 L1019.8,200.1 L1020.15,204.91 L1020.5,209.63 L1020.85,214.26 L1021.2,218.78 L1021.55,223.19 L1021.9,227.48 L1022.25,231.66 L1022.6,235.71 L1022.95,239.64 L1023.3,243.44 L1023.65,247.11 L1024,250.64 L1024.35,254.05 L1024.7,257.32 L1025.05,260.46 L1025.4,263.47 L1025.75,266.34 L1026.1,269.09 L1026.45,271.71 L1026.8,274.2 L1027.15,276.57 L1027.5,278.82 L1027.85,280.95 L1028.2,282.97 L1028.55,284.87 L1028.9,286.67 L1029.25,288.36 L1029.6,289.96 L1029.95,291.46 L1030.3,292.86 L1030.65,294.18 L1031,295.41 L1031.35,296.56 L1031.7,297.63 L1032.05,298.63 L1032.4,299.56 L1032.75,300.42 L1033.1,301.22 L1033.45,301.97 L1033.8,302.65 L1034.15,303.29 L1034.5,303.87 L1034.85,304.41 L1035.2,304.91 L1035.55,305.36 L1035.9,305.78 L1036.25,306.16 L1036.6,306.51 L1036.95,306.83 L1037.3,307.13 L1037.65,307.39 L1038,307.63 L1038.35,307.85 L1038.7,308.05 L1039.05,308.24 L1039.4,308.4 L1039.75,308.55 L1040.1,308.68 L1040.45,308.8 L1040.8,308.91 L1041.15,309.01 L1041.5,309.1 L1041.85,309.18 L1042.2,309.25 L1042.55,309.31 L1042.9,309.37 L1043.25,309.42 L1043.6,309.46 L1043.95,309.5 L1044.3,309.54" fill="none" stroke="#2b2bd0" stroke-width="1.2"/><path d="M732.6,309.62 L732.95,309.59 L733.3,309.57 L733.65,309.54 L734,309.5 L734.35,309.47 L734.7,309.43 L735.05,309.38 L735.4,309.33 L735.75,309.28 L736.1,309.22 L736.45,309.15 L736.8,309.08 L737.15,308.99 L737.5,308.9 L737.85,308.8 L738.2,308.7 L738.55,308.58 L738.9,308.44 L739.25,308.3 L739.6,308.15 L739.95,307.97 L740.3,307.79 L740.65,307.59 L741,307.37 L741.35,307.13 L741.7,306.87 L742.05,306.59 L742.4,306.29 L742.75,305.96 L743.1,305.6 L743.45,305.22 L743.8,304.81 L744.15,304.37 L744.5,303.9 L744.85,303.4 L745.2,302.86 L745.55,302.28 L745.9,301.66 L746.25,301 L746.6,300.3 L746.95,299.56 L747.3,298.77 L747.65,297.93 L748,297.04 L748.35,296.1 L748.7,295.11 L749.05,294.07 L749.4,292.97 L749.75,291.81 L750.1,290.6 L750.45,289.33 L750.8,288 L751.15,286.6 L751.5,285.15 L751.85,283.64 L752.2,282.06 L752.55,280.42 L752.9,278.72 L753.25,276.96 L753.6,275.14 L753.95,273.26 L754.3,271.33 L754.65,269.33 L755,267.28 L755.35,265.18 L755.7,263.02 L756.05,260.82 L756.4,258.57 L756.75,256.28 L757.1,253.94 L757.45,251.58 L757.8,249.18 L758.15,246.75 L758.5,244.3 L758.85,241.84 L759.2,239.36 L759.55,236.87 L759.9,234.38 L760.25,231.89 L760.6,229.42 L760.95,226.95 L761.3,224.51 L761.65,222.1 L762,219.72 L762.35,217.38 L762.7,215.08 L763.05,212.84 L763.4,210.66 L763.75,208.55 L764.1,206.5 L764.45,204.54 L764.8,202.66 L765.15,200.87 L765.5,199.17 L765.85,197.57 L766.2,196.08 L766.55,194.7 L766.9,193.44 L767.25,192.3 L767.6,191.27 L767.95,190.38 L768.3,189.61 L768.65,188.98 L769,188.48 L769.35,188.12 L769.7,187.89 L770.05,187.8 L770.4,187.85 L770.75,188.04 L771.1,188.36 L771.45,188.82 L771.8,189.42 L772.15,190.15 L772.5,191.01 L772.85,191.99 L773.2,193.1 L773.55,194.33 L773.9,195.68 L774.25,197.14 L774.6,198.7 L774.95,200.37 L775.3,202.14 L775.65,203.99 L776,205.93 L776.35,207.96 L776.7,210.05 L777.05,212.21 L777.4,214.44 L777.75,216.72 L778.1,219.05 L778.45,221.41 L778.8,223.82 L779.15,226.25 L779.5,228.71 L779.85,231.18 L780.2,233.67 L780.55,236.16 L780.9,238.65 L781.25,241.13 L781.6,243.6 L781.95,246.06 L782.3,248.49 L782.65,250.9 L783,253.27 L783.35,255.61 L783.7,257.92 L784.05,260.18 L784.4,262.4 L784.75,264.57 L785.1,266.68 L785.45,268.75 L785.8,270.76 L786.15,272.72 L786.5,274.61 L786.85,276.45 L787.2,278.23 L787.55,279.94 L787.9,281.6 L788.25,283.19 L788.6,284.72 L788.95,286.2 L789.3,287.6 L789.65,288.95 L790,290.24 L790.35,291.47 L790.7,292.64 L791.05,293.76 L791.4,294.82 L791.75,295.83 L792.1,296.78 L792.45,297.68 L792.8,298.53 L793.15,299.34 L793.5,300.09 L793.85,300.81 L794.2,301.48 L794.55,302.11 L794.9,302.69 L795.25,303.25 L795.6,303.76 L795.95,304.24 L796.3,304.69 L796.65,305.11 L797,305.5 L797.35,305.86 L797.7,306.19 L798.05,306.5 L798.4,306.79 L798.75,307.06 L799.1,307.3 L799.45,307.53 L799.8,307.73 L800.15,307.92 L800.5,308.1 L800.85,308.26 L801.2,308.41 L801.55,308.54 L801.9,308.66 L802.25,308.77 L802.6,308.88 L802.95,308.97 L803.3,309.05 L803.65,309.13 L804,309.2 L804.35,309.26 L804.7,309.32 L805.05,309.37 L805.4,309.42 L805.75,309.46 L806.1,309.49 L806.45,309.53 L806.8,309.56 L807.15,309.59 L807.5,309.61" fill="none" stroke="#2b2bd0" stroke-width="1.2"/><path d="M967,309.14 L967.35,309.07 L967.7,308.98 L968.05,308.89 L968.4,308.79 L968.75,308.69 L969.1,308.57 L969.45,308.45 L969.8,308.31 L970.15,308.17 L970.5,308.01 L970.85,307.85 L971.2,307.67 L971.55,307.48 L971.9,307.27 L972.25,307.06 L972.6,306.83 L972.95,306.59 L973.3,306.34 L973.65,306.07 L974,305.79 L974.35,305.5 L974.7,305.2 L975.05,304.88 L975.4,304.56 L975.75,304.22 L976.1,303.87 L976.45,303.51 L976.8,303.15 L977.15,302.77 L977.5,302.39 L977.85,302 L978.2,301.61 L978.55,301.21 L978.9,300.82 L979.25,300.42 L979.6,300.02 L979.95,299.63 L980.3,299.24 L980.65,298.85 L981,298.48 L981.35,298.11 L981.7,297.76 L982.05,297.41 L982.4,297.09 L982.75,296.77 L983.1,296.48 L983.45,296.21 L983.8,295.95 L984.15,295.72 L984.5,295.51 L984.85,295.33 L985.2,295.17 L985.55,295.04 L985.9,294.94 L986.25,294.87 L986.6,294.82 L986.95,294.8 L987.3,294.81 L987.65,294.83 L988,294.86 L988.35,294.91 L988.7,294.98 L989.05,295.06 L989.4,295.15 L989.75,295.26 L990.1,295.38 L990.45,295.52 L990.8,295.67 L991.15,295.83 L991.5,296 L991.85,296.19 L992.2,296.39 L992.55,296.59 L992.9,296.81 L993.25,297.04 L993.6,297.27 L993.95,297.51 L994.3,297.76 L994.65,298.02 L995,298.29 L995.35,298.55 L995.7,298.83 L996.05,299.11 L996.4,299.39 L996.75,299.67 L997.1,299.96 L997.45,300.25 L997.8,300.54 L998.15,300.83 L998.5,301.12 L998.85,301.4 L999.2,301.69 L999.55,301.98 L999.9,302.26 L1000.25,302.54 L1000.6,302.82 L1000.95,303.09 L1001.3,303.36 L1001.65,303.62 L1002,303.88 L1002.35,304.13 L1002.7,304.38 L1003.05,304.63 L1003.4,304.86 L1003.75,305.09 L1004.1,305.32 L1004.45,305.54 L1004.8,305.75 L1005.15,305.95 L1005.5,306.15 L1005.85,306.35 L1006.2,306.53 L1006.55,306.71 L1006.9,306.88 L1007.25,307.04 L1007.6,307.2 L1007.95,307.35 L1008.3,307.5 L1008.65,307.64 L1009,307.77 L1009.35,307.9 L1009.7,308.02 L1010.05,308.13 L1010.4,308.24 L1010.75,308.34" fill="none" stroke="#222" stroke-width="0.9" stroke-dasharray="3,2"/><path d="M727.5,308.59 L727.85,308.49 L728.2,308.39 L728.55,308.27 L728.9,308.16 L729.25,308.03 L729.6,307.9 L729.95,307.76 L730.3,307.62 L730.65,307.46 L731,307.31 L731.35,307.14 L731.7,306.97 L732.05,306.79 L732.4,306.61 L732.75,306.42 L733.1,306.22 L733.45,306.02 L733.8,305.81 L734.15,305.6 L734.5,305.38 L734.85,305.16 L735.2,304.93 L735.55,304.7 L735.9,304.47 L736.25,304.24 L736.6,304 L736.95,303.77 L737.3,303.53 L737.65,303.3 L738,303.06 L738.35,302.83 L738.7,302.6 L739.05,302.38 L739.4,302.16 L739.75,301.94 L740.1,301.73 L740.45,301.53 L740.8,301.34 L741.15,301.15 L741.5,300.98 L741.85,300.81 L742.2,300.65 L742.55,300.51 L742.9,300.38 L743.25,300.26 L743.6,300.15 L743.95,300.06 L744.3,299.98 L744.65,299.91 L745,299.86 L745.35,299.83 L745.7,299.81 L746.05,299.8 L746.4,299.81 L746.75,299.83 L747.1,299.87 L747.45,299.93 L747.8,300 L748.15,300.08 L748.5,300.18 L748.85,300.29 L749.2,300.41 L749.55,300.55 L749.9,300.7 L750.25,300.86 L750.6,301.02 L750.95,301.2 L751.3,301.39 L751.65,301.59 L752,301.79 L752.35,302 L752.7,302.22 L753.05,302.44 L753.4,302.67 L753.75,302.9 L754.1,303.13 L754.45,303.36 L754.8,303.6 L755.15,303.84 L755.5,304.07 L755.85,304.31 L756.2,304.54 L756.55,304.77 L756.9,305 L757.25,305.22 L757.6,305.44 L757.95,305.66 L758.3,305.87 L758.65,306.08 L759,306.28 L759.35,306.47 L759.7,306.66 L760.05,306.84 L760.4,307.02 L760.75,307.19 L761.1,307.35 L761.45,307.51 L761.8,307.66 L762.15,307.8 L762.5,307.94 L762.85,308.07 L763.2,308.19 L763.55,308.31 L763.9,308.42 L764.25,308.52" fill="none" stroke="#222" stroke-width="0.9" stroke-dasharray="3,2"/><g fill="#111"><rect x="707.19" y="308.35" width="2.9" height="2.9"/><rect x="708.22" y="308.35" width="2.9" height="2.9"/><rect x="709.24" y="308.35" width="2.9" height="2.9"/><rect x="710.27" y="308.34" width="2.9" height="2.9"/><rect x="711.29" y="308.34" width="2.9" height="2.9"/><rect x="712.32" y="308.33" width="2.9" height="2.9"/><rect x="713.35" y="308.33" width="2.9" height="2.9"/><rect x="714.37" y="308.31" width="2.9" height="2.9"/><rect x="715.4" y="308.3" width="2.9" height="2.9"/><rect x="716.42" y="308.27" width="2.9" height="2.9"/><rect x="717.45" y="308.24" width="2.9" height="2.9"/><rect x="718.48" y="308.2" width="2.9" height="2.9"/><rect x="719.5" y="308.14" width="2.9" height="2.9"/><rect x="720.53" y="308.06" width="2.9" height="2.9"/><rect x="721.55" y="307.7" width="2.9" height="2.9"/><rect x="722.58" y="307.93" width="2.9" height="2.9"/><rect x="723.61" y="308.02" width="2.9" height="2.9"/><rect x="724.63" y="308.16" width="2.9" height="2.9"/><rect x="725.66" y="306.84" width="2.9" height="2.9"/><rect x="726.68" y="306.73" width="2.9" height="2.9"/><rect x="727.71" y="304.24" width="2.9" height="2.9"/><rect x="728.74" y="308.86" width="2.9" height="2.9"/><rect x="729.76" y="308.11" width="2.9" height="2.9"/><rect x="730.79" y="304.78" width="2.9" height="2.9"/><rect x="731.81" y="303.63" width="2.9" height="2.9"/><rect x="732.84" y="301.63" width="2.9" height="2.9"/><rect x="733.87" y="303.24" width="2.9" height="2.9"/><rect x="734.89" y="302.45" width="2.9" height="2.9"/><rect x="735.92" y="304.88" width="2.9" height="2.9"/><rect x="736.94" y="300.6" width="2.9" height="2.9"/><rect x="737.97" y="297.8" width="2.9" height="2.9"/><rect x="739" y="293.83" width="2.9" height="2.9"/><rect x="740.02" y="299.17" width="2.9" height="2.9"/><rect x="741.05" y="295.8" width="2.9" height="2.9"/><rect x="742.07" y="291.33" width="2.9" height="2.9"/><rect x="743.1" y="292.82" width="2.9" height="2.9"/><rect x="744.13" y="288.06" width="2.9" height="2.9"/><rect x="745.15" y="294.79" width="2.9" height="2.9"/><rect x="746.18" y="288.6" width="2.9" height="2.9"/><rect x="747.2" y="285.19" width="2.9" height="2.9"/><rect x="748.23" y="281.1" width="2.9" height="2.9"/><rect x="749.26" y="274.55" width="2.9" height="2.9"/><rect x="750.28" y="274.33" width="2.9" height="2.9"/><rect x="751.31" y="267.79" width="2.9" height="2.9"/><rect x="752.33" y="266.85" width="2.9" height="2.9"/><rect x="753.36" y="257.12" width="2.9" height="2.9"/><rect x="754.39" y="253.67" width="2.9" height="2.9"/><rect x="755.41" y="251.33" width="2.9" height="2.9"/><rect x="756.44" y="243.93" width="2.9" height="2.9"/><rect x="757.46" y="235.65" width="2.9" height="2.9"/><rect x="758.49" y="228.71" width="2.9" height="2.9"/><rect x="759.52" y="223.41" width="2.9" height="2.9"/><rect x="760.54" y="216.77" width="2.9" height="2.9"/><rect x="761.57" y="209.33" width="2.9" height="2.9"/><rect x="762.59" y="203.61" width="2.9" height="2.9"/><rect x="763.62" y="198.33" width="2.9" height="2.9"/><rect x="764.65" y="193.51" width="2.9" height="2.9"/><rect x="765.67" y="190.18" width="2.9" height="2.9"/><rect x="766.7" y="188.71" width="2.9" height="2.9"/><rect x="767.72" y="186.83" width="2.9" height="2.9"/><rect x="768.75" y="187.24" width="2.9" height="2.9"/><rect x="769.78" y="186.7" width="2.9" height="2.9"/><rect x="770.8" y="188.56" width="2.9" height="2.9"/><rect x="771.83" y="191.02" width="2.9" height="2.9"/><rect x="772.85" y="195.5" width="2.9" height="2.9"/><rect x="773.88" y="199.63" width="2.9" height="2.9"/><rect x="774.91" y="204.96" width="2.9" height="2.9"/><rect x="775.93" y="212.64" width="2.9" height="2.9"/><rect x="776.96" y="219.73" width="2.9" height="2.9"/><rect x="777.98" y="226.28" width="2.9" height="2.9"/><rect x="779.01" y="233.6" width="2.9" height="2.9"/><rect x="780.04" y="239.94" width="2.9" height="2.9"/><rect x="781.06" y="246.17" width="2.9" height="2.9"/><rect x="782.09" y="253.26" width="2.9" height="2.9"/><rect x="783.11" y="258.6" width="2.9" height="2.9"/><rect x="784.14" y="263" width="2.9" height="2.9"/><rect x="785.17" y="267.15" width="2.9" height="2.9"/><rect x="786.19" y="272.1" width="2.9" height="2.9"/><rect x="787.22" y="278.65" width="2.9" height="2.9"/><rect x="788.24" y="282.41" width="2.9" height="2.9"/><rect x="789.27" y="284.32" width="2.9" height="2.9"/><rect x="790.3" y="290.06" width="2.9" height="2.9"/><rect x="791.32" y="290.01" width="2.9" height="2.9"/><rect x="792.35" y="292.39" width="2.9" height="2.9"/><rect x="793.37" y="294.86" width="2.9" height="2.9"/><rect x="794.4" y="292.53" width="2.9" height="2.9"/><rect x="795.43" y="291.52" width="2.9" height="2.9"/><rect x="796.45" y="296.94" width="2.9" height="2.9"/><rect x="797.48" y="295.18" width="2.9" height="2.9"/><rect x="798.5" y="299.21" width="2.9" height="2.9"/><rect x="799.53" y="298.15" width="2.9" height="2.9"/><rect x="800.56" y="299.88" width="2.9" height="2.9"/><rect x="801.58" y="300.06" width="2.9" height="2.9"/><rect x="802.61" y="295.84" width="2.9" height="2.9"/><rect x="803.63" y="301.24" width="2.9" height="2.9"/><rect x="804.66" y="299.52" width="2.9" height="2.9"/><rect x="805.69" y="300.04" width="2.9" height="2.9"/><rect x="806.71" y="301.26" width="2.9" height="2.9"/><rect x="807.74" y="303.96" width="2.9" height="2.9"/><rect x="808.76" y="304.81" width="2.9" height="2.9"/><rect x="809.79" y="305.64" width="2.9" height="2.9"/><rect x="810.82" y="301.68" width="2.9" height="2.9"/><rect x="811.84" y="304.05" width="2.9" height="2.9"/><rect x="812.87" y="301.51" width="2.9" height="2.9"/><rect x="813.89" y="305.83" width="2.9" height="2.9"/><rect x="814.92" y="307.42" width="2.9" height="2.9"/><rect x="815.95" y="305.45" width="2.9" height="2.9"/><rect x="816.97" y="307.25" width="2.9" height="2.9"/><rect x="818" y="307.5" width="2.9" height="2.9"/><rect x="819.02" y="308.33" width="2.9" height="2.9"/><rect x="820.05" y="307.05" width="2.9" height="2.9"/><rect x="821.08" y="307.19" width="2.9" height="2.9"/><rect x="822.1" y="307.36" width="2.9" height="2.9"/><rect x="823.13" y="308.06" width="2.9" height="2.9"/><rect x="824.15" y="308.13" width="2.9" height="2.9"/><rect x="825.18" y="308.19" width="2.9" height="2.9"/><rect x="826.21" y="308.23" width="2.9" height="2.9"/><rect x="827.23" y="308.27" width="2.9" height="2.9"/><rect x="828.26" y="308.29" width="2.9" height="2.9"/><rect x="829.28" y="308.31" width="2.9" height="2.9"/><rect x="830.31" y="308.32" width="2.9" height="2.9"/><rect x="831.34" y="308.33" width="2.9" height="2.9"/><rect x="832.36" y="308.34" width="2.9" height="2.9"/><rect x="833.39" y="308.34" width="2.9" height="2.9"/><rect x="834.41" y="308.34" width="2.9" height="2.9"/><rect x="835.44" y="308.35" width="2.9" height="2.9"/><rect x="836.47" y="308.35" width="2.9" height="2.9"/><rect x="837.49" y="308.35" width="2.9" height="2.9"/><rect x="838.52" y="308.35" width="2.9" height="2.9"/><rect x="839.54" y="308.35" width="2.9" height="2.9"/><rect x="840.57" y="308.35" width="2.9" height="2.9"/><rect x="841.6" y="308.35" width="2.9" height="2.9"/><rect x="842.62" y="308.35" width="2.9" height="2.9"/><rect x="843.65" y="308.35" width="2.9" height="2.9"/><rect x="844.67" y="308.35" width="2.9" height="2.9"/><rect x="845.7" y="308.35" width="2.9" height="2.9"/><rect x="846.73" y="308.35" width="2.9" height="2.9"/><rect x="847.75" y="308.35" width="2.9" height="2.9"/><rect x="848.78" y="308.35" width="2.9" height="2.9"/><rect x="849.8" y="308.35" width="2.9" height="2.9"/><rect x="850.83" y="308.35" width="2.9" height="2.9"/><rect x="851.86" y="308.35" width="2.9" height="2.9"/><rect x="852.88" y="308.35" width="2.9" height="2.9"/><rect x="853.91" y="308.35" width="2.9" height="2.9"/><rect x="854.93" y="308.35" width="2.9" height="2.9"/><rect x="855.96" y="308.35" width="2.9" height="2.9"/><rect x="856.99" y="308.35" width="2.9" height="2.9"/><rect x="858.01" y="308.35" width="2.9" height="2.9"/><rect x="859.04" y="308.35" width="2.9" height="2.9"/><rect x="860.06" y="308.35" width="2.9" height="2.9"/><rect x="861.09" y="308.35" width="2.9" height="2.9"/><rect x="862.12" y="308.35" width="2.9" height="2.9"/><rect x="863.14" y="308.35" width="2.9" height="2.9"/><rect x="864.17" y="308.35" width="2.9" height="2.9"/><rect x="865.19" y="308.35" width="2.9" height="2.9"/><rect x="866.22" y="308.35" width="2.9" height="2.9"/><rect x="867.25" y="308.35" width="2.9" height="2.9"/><rect x="868.27" y="308.35" width="2.9" height="2.9"/><rect x="869.3" y="308.35" width="2.9" height="2.9"/><rect x="870.32" y="308.35" width="2.9" height="2.9"/><rect x="871.35" y="308.35" width="2.9" height="2.9"/><rect x="872.38" y="308.35" width="2.9" height="2.9"/><rect x="873.4" y="308.35" width="2.9" height="2.9"/><rect x="874.43" y="308.35" width="2.9" height="2.9"/><rect x="875.45" y="308.35" width="2.9" height="2.9"/><rect x="876.48" y="308.35" width="2.9" height="2.9"/><rect x="877.51" y="308.35" width="2.9" height="2.9"/><rect x="878.53" y="308.35" width="2.9" height="2.9"/><rect x="879.56" y="308.35" width="2.9" height="2.9"/><rect x="880.58" y="308.35" width="2.9" height="2.9"/><rect x="881.61" y="308.35" width="2.9" height="2.9"/><rect x="882.64" y="308.35" width="2.9" height="2.9"/><rect x="883.66" y="308.35" width="2.9" height="2.9"/><rect x="884.69" y="308.35" width="2.9" height="2.9"/><rect x="885.71" y="308.35" width="2.9" height="2.9"/><rect x="886.74" y="308.35" width="2.9" height="2.9"/><rect x="887.77" y="308.35" width="2.9" height="2.9"/><rect x="888.79" y="308.35" width="2.9" height="2.9"/><rect x="889.82" y="308.35" width="2.9" height="2.9"/><rect x="890.84" y="308.35" width="2.9" height="2.9"/><rect x="891.87" y="308.35" width="2.9" height="2.9"/><rect x="892.9" y="308.35" width="2.9" height="2.9"/><rect x="893.92" y="308.35" width="2.9" height="2.9"/><rect x="894.95" y="308.35" width="2.9" height="2.9"/><rect x="895.97" y="308.35" width="2.9" height="2.9"/><rect x="897" y="308.35" width="2.9" height="2.9"/><rect x="898.03" y="308.35" width="2.9" height="2.9"/><rect x="899.05" y="308.35" width="2.9" height="2.9"/><rect x="900.08" y="308.35" width="2.9" height="2.9"/><rect x="901.1" y="308.35" width="2.9" height="2.9"/><rect x="902.13" y="308.35" width="2.9" height="2.9"/><rect x="903.16" y="308.35" width="2.9" height="2.9"/><rect x="904.18" y="308.35" width="2.9" height="2.9"/><rect x="905.21" y="308.35" width="2.9" height="2.9"/><rect x="906.23" y="308.35" width="2.9" height="2.9"/><rect x="907.26" y="308.35" width="2.9" height="2.9"/><rect x="908.29" y="308.35" width="2.9" height="2.9"/><rect x="909.31" y="308.35" width="2.9" height="2.9"/><rect x="910.34" y="308.35" width="2.9" height="2.9"/><rect x="911.36" y="308.35" width="2.9" height="2.9"/><rect x="912.39" y="308.35" width="2.9" height="2.9"/><rect x="913.42" y="308.35" width="2.9" height="2.9"/><rect x="914.44" y="308.35" width="2.9" height="2.9"/><rect x="915.47" y="308.35" width="2.9" height="2.9"/><rect x="916.49" y="308.35" width="2.9" height="2.9"/><rect x="917.52" y="308.35" width="2.9" height="2.9"/><rect x="918.55" y="308.35" width="2.9" height="2.9"/><rect x="919.57" y="308.35" width="2.9" height="2.9"/><rect x="920.6" y="308.35" width="2.9" height="2.9"/><rect x="921.62" y="308.35" width="2.9" height="2.9"/><rect x="922.65" y="308.35" width="2.9" height="2.9"/><rect x="923.68" y="308.35" width="2.9" height="2.9"/><rect x="924.7" y="308.35" width="2.9" height="2.9"/><rect x="925.73" y="308.35" width="2.9" height="2.9"/><rect x="926.75" y="308.35" width="2.9" height="2.9"/><rect x="927.78" y="308.35" width="2.9" height="2.9"/><rect x="928.81" y="308.35" width="2.9" height="2.9"/><rect x="929.83" y="308.35" width="2.9" height="2.9"/><rect x="930.86" y="308.35" width="2.9" height="2.9"/><rect x="931.88" y="308.35" width="2.9" height="2.9"/><rect x="932.91" y="308.35" width="2.9" height="2.9"/><rect x="933.94" y="308.35" width="2.9" height="2.9"/><rect x="934.96" y="308.35" width="2.9" height="2.9"/><rect x="935.99" y="308.35" width="2.9" height="2.9"/><rect x="937.01" y="308.35" width="2.9" height="2.9"/><rect x="938.04" y="308.35" width="2.9" height="2.9"/><rect x="939.07" y="308.35" width="2.9" height="2.9"/><rect x="940.09" y="308.35" width="2.9" height="2.9"/><rect x="941.12" y="308.35" width="2.9" height="2.9"/><rect x="942.14" y="308.35" width="2.9" height="2.9"/><rect x="943.17" y="308.35" width="2.9" height="2.9"/><rect x="944.2" y="308.35" width="2.9" height="2.9"/><rect x="945.22" y="308.35" width="2.9" height="2.9"/><rect x="946.25" y="308.35" width="2.9" height="2.9"/><rect x="947.27" y="308.35" width="2.9" height="2.9"/><rect x="948.3" y="308.35" width="2.9" height="2.9"/><rect x="949.33" y="308.35" width="2.9" height="2.9"/><rect x="950.35" y="308.35" width="2.9" height="2.9"/><rect x="951.38" y="308.35" width="2.9" height="2.9"/><rect x="952.4" y="308.35" width="2.9" height="2.9"/><rect x="953.43" y="308.34" width="2.9" height="2.9"/><rect x="954.46" y="308.34" width="2.9" height="2.9"/><rect x="955.48" y="308.34" width="2.9" height="2.9"/><rect x="956.51" y="308.33" width="2.9" height="2.9"/><rect x="957.53" y="308.31" width="2.9" height="2.9"/><rect x="958.56" y="308.29" width="2.9" height="2.9"/><rect x="959.59" y="308.26" width="2.9" height="2.9"/><rect x="960.61" y="308.22" width="2.9" height="2.9"/><rect x="961.64" y="308.16" width="2.9" height="2.9"/><rect x="962.66" y="308.07" width="2.9" height="2.9"/><rect x="963.69" y="308.32" width="2.9" height="2.9"/><rect x="964.72" y="307.58" width="2.9" height="2.9"/><rect x="965.74" y="307.57" width="2.9" height="2.9"/><rect x="966.77" y="307.07" width="2.9" height="2.9"/><rect x="967.79" y="307.25" width="2.9" height="2.9"/><rect x="968.82" y="307.47" width="2.9" height="2.9"/><rect x="969.85" y="305.09" width="2.9" height="2.9"/><rect x="970.87" y="303.47" width="2.9" height="2.9"/><rect x="971.9" y="302.4" width="2.9" height="2.9"/><rect x="972.92" y="304.51" width="2.9" height="2.9"/><rect x="973.95" y="303.37" width="2.9" height="2.9"/><rect x="974.98" y="301.16" width="2.9" height="2.9"/><rect x="976" y="298.91" width="2.9" height="2.9"/><rect x="977.03" y="296.53" width="2.9" height="2.9"/><rect x="978.05" y="292.41" width="2.9" height="2.9"/><rect x="979.08" y="290.46" width="2.9" height="2.9"/><rect x="980.11" y="284.02" width="2.9" height="2.9"/><rect x="981.13" y="281.46" width="2.9" height="2.9"/><rect x="982.16" y="276.03" width="2.9" height="2.9"/><rect x="983.18" y="273.4" width="2.9" height="2.9"/><rect x="984.21" y="265.4" width="2.9" height="2.9"/><rect x="985.24" y="259.71" width="2.9" height="2.9"/><rect x="986.26" y="253.26" width="2.9" height="2.9"/><rect x="987.29" y="245.11" width="2.9" height="2.9"/><rect x="988.31" y="234.54" width="2.9" height="2.9"/><rect x="989.34" y="224.15" width="2.9" height="2.9"/><rect x="990.37" y="213.91" width="2.9" height="2.9"/><rect x="991.39" y="200.52" width="2.9" height="2.9"/><rect x="992.42" y="188.4" width="2.9" height="2.9"/><rect x="993.44" y="174.06" width="2.9" height="2.9"/><rect x="994.47" y="160.14" width="2.9" height="2.9"/><rect x="995.5" y="144.7" width="2.9" height="2.9"/><rect x="996.52" y="131.86" width="2.9" height="2.9"/><rect x="997.55" y="117.16" width="2.9" height="2.9"/><rect x="998.57" y="103.66" width="2.9" height="2.9"/><rect x="999.6" y="93.26" width="2.9" height="2.9"/><rect x="1000.63" y="81.64" width="2.9" height="2.9"/><rect x="1001.65" y="74.24" width="2.9" height="2.9"/><rect x="1002.68" y="65.28" width="2.9" height="2.9"/><rect x="1003.7" y="59.95" width="2.9" height="2.9"/><rect x="1004.73" y="57.72" width="2.9" height="2.9"/><rect x="1005.76" y="58.59" width="2.9" height="2.9"/><rect x="1006.78" y="60.06" width="2.9" height="2.9"/><rect x="1007.81" y="65.21" width="2.9" height="2.9"/><rect x="1008.83" y="72.39" width="2.9" height="2.9"/><rect x="1009.86" y="80.75" width="2.9" height="2.9"/><rect x="1010.89" y="92.38" width="2.9" height="2.9"/><rect x="1011.91" y="104.49" width="2.9" height="2.9"/><rect x="1012.94" y="117.68" width="2.9" height="2.9"/><rect x="1013.96" y="133.36" width="2.9" height="2.9"/><rect x="1014.99" y="148.06" width="2.9" height="2.9"/><rect x="1016.02" y="162.59" width="2.9" height="2.9"/><rect x="1017.04" y="176.62" width="2.9" height="2.9"/><rect x="1018.07" y="190.03" width="2.9" height="2.9"/><rect x="1019.09" y="204.81" width="2.9" height="2.9"/><rect x="1020.12" y="216.76" width="2.9" height="2.9"/><rect x="1021.15" y="227.01" width="2.9" height="2.9"/><rect x="1022.17" y="237.99" width="2.9" height="2.9"/><rect x="1023.2" y="245.9" width="2.9" height="2.9"/><rect x="1024.22" y="254.37" width="2.9" height="2.9"/><rect x="1025.25" y="261.12" width="2.9" height="2.9"/><rect x="1026.28" y="266.92" width="2.9" height="2.9"/><rect x="1027.3" y="271.2" width="2.9" height="2.9"/><rect x="1028.33" y="274.86" width="2.9" height="2.9"/><rect x="1029.35" y="275.73" width="2.9" height="2.9"/><rect x="1030.38" y="279.62" width="2.9" height="2.9"/><rect x="1031.41" y="281.62" width="2.9" height="2.9"/><rect x="1032.43" y="284.06" width="2.9" height="2.9"/><rect x="1033.46" y="286.75" width="2.9" height="2.9"/><rect x="1034.48" y="289.15" width="2.9" height="2.9"/><rect x="1035.51" y="292.72" width="2.9" height="2.9"/><rect x="1036.54" y="287.44" width="2.9" height="2.9"/><rect x="1037.56" y="294.37" width="2.9" height="2.9"/><rect x="1038.59" y="295.22" width="2.9" height="2.9"/><rect x="1039.61" y="301.25" width="2.9" height="2.9"/><rect x="1040.64" y="300.7" width="2.9" height="2.9"/><rect x="1041.67" y="297.9" width="2.9" height="2.9"/><rect x="1042.69" y="302.84" width="2.9" height="2.9"/><rect x="1043.72" y="302.54" width="2.9" height="2.9"/><rect x="1044.74" y="306.2" width="2.9" height="2.9"/><rect x="1045.77" y="303.63" width="2.9" height="2.9"/><rect x="1046.8" y="305.99" width="2.9" height="2.9"/><rect x="1047.82" y="306.52" width="2.9" height="2.9"/><rect x="1048.85" y="307.12" width="2.9" height="2.9"/><rect x="1049.87" y="307.08" width="2.9" height="2.9"/><rect x="1050.9" y="306.33" width="2.9" height="2.9"/><rect x="1051.93" y="308.35" width="2.9" height="2.9"/><rect x="1052.95" y="308.1" width="2.9" height="2.9"/><rect x="1053.98" y="308.19" width="2.9" height="2.9"/><rect x="1055" y="308.25" width="2.9" height="2.9"/><rect x="1056.03" y="308.29" width="2.9" height="2.9"/><rect x="1057.06" y="308.31" width="2.9" height="2.9"/><rect x="1058.08" y="308.33" width="2.9" height="2.9"/><rect x="1059.11" y="308.34" width="2.9" height="2.9"/><rect x="1060.13" y="308.34" width="2.9" height="2.9"/><rect x="1061.16" y="308.35" width="2.9" height="2.9"/><rect x="1062.19" y="308.35" width="2.9" height="2.9"/><rect x="1063.21" y="308.35" width="2.9" height="2.9"/><rect x="1064.24" y="308.35" width="2.9" height="2.9"/><rect x="1065.26" y="308.35" width="2.9" height="2.9"/><rect x="1066.29" y="308.35" width="2.9" height="2.9"/><rect x="960.65" y="310.45" width="2.9" height="2.9"/><rect x="970.05" y="310.45" width="2.9" height="2.9"/><rect x="1050.25" y="311.15" width="2.9" height="2.9"/><rect x="730.45" y="309.65" width="2.9" height="2.9"/><rect x="733.15" y="308.95" width="2.9" height="2.9"/><rect x="978.85" y="287.95" width="2.9" height="2.9"/><rect x="980.75" y="289.55" width="2.9" height="2.9"/><rect x="976.35" y="292.55" width="2.9" height="2.9"/><rect x="1030.35" y="281.55" width="2.9" height="2.9"/><rect x="1036.05" y="288.15" width="2.9" height="2.9"/><rect x="797.85" y="292.95" width="2.9" height="2.9"/><rect x="803.55" y="297.05" width="2.9" height="2.9"/><rect x="741.55" y="289.55" width="2.9" height="2.9"/></g><path d="M708.9,309.8 L709.25,309.8 L709.6,309.8 L709.95,309.8 L710.3,309.8 L710.65,309.8 L711,309.79 L711.35,309.79 L711.7,309.79 L712.05,309.79 L712.4,309.79 L712.75,309.79 L713.1,309.79 L713.45,309.79 L713.8,309.78 L714.15,309.78 L714.5,309.78 L714.85,309.77 L715.2,309.77 L715.55,309.77 L715.9,309.76 L716.25,309.76 L716.6,309.75 L716.95,309.75 L717.3,309.74 L717.65,309.73 L718,309.72 L718.35,309.71 L718.7,309.7 L719.05,309.69 L719.4,309.67 L719.75,309.66 L720.1,309.64 L720.45,309.62 L720.8,309.6 L721.15,309.58 L721.5,309.55 L721.85,309.52 L722.2,309.49 L722.55,309.46 L722.9,309.42 L723.25,309.39 L723.6,309.34 L723.95,309.3 L724.3,309.25 L724.65,309.19 L725,309.13 L725.35,309.07 L725.7,309 L726.05,308.93 L726.4,308.85 L726.75,308.76 L727.1,308.67 L727.45,308.58 L727.8,308.47 L728.15,308.37 L728.5,308.25 L728.85,308.13 L729.2,308 L729.55,307.86 L729.9,307.71 L730.25,307.56 L730.6,307.4 L730.95,307.23 L731.3,307.05 L731.65,306.86 L732,306.67 L732.35,306.47 L732.7,306.25 L733.05,306.03 L733.4,305.81 L733.75,305.57 L734.1,305.32 L734.45,305.07 L734.8,304.81 L735.15,304.53 L735.5,304.25 L735.85,303.97 L736.2,303.67 L736.55,303.37 L736.9,303.05 L737.25,302.73 L737.6,302.41 L737.95,302.07 L738.3,301.73 L738.65,301.38 L739,301.02 L739.35,300.65 L739.7,300.27 L740.05,299.89 L740.4,299.49 L740.75,299.09 L741.1,298.68 L741.45,298.26 L741.8,297.82 L742.15,297.38 L742.5,296.92 L742.85,296.45 L743.2,295.97 L743.55,295.47 L743.9,294.96 L744.25,294.43 L744.6,293.88 L744.95,293.31 L745.3,292.73 L745.65,292.11 L746,291.48 L746.35,290.81 L746.7,290.12 L747.05,289.4 L747.4,288.65 L747.75,287.87 L748.1,287.05 L748.45,286.19 L748.8,285.29 L749.15,284.35 L749.5,283.37 L749.85,282.35 L750.2,281.27 L750.55,280.15 L750.9,278.98 L751.25,277.76 L751.6,276.48 L751.95,275.16 L752.3,273.77 L752.65,272.33 L753,270.84 L753.35,269.29 L753.7,267.68 L754.05,266.01 L754.4,264.29 L754.75,262.52 L755.1,260.69 L755.45,258.8 L755.8,256.87 L756.15,254.88 L756.5,252.85 L756.85,250.78 L757.2,248.66 L757.55,246.51 L757.9,244.32 L758.25,242.09 L758.6,239.85 L758.95,237.58 L759.3,235.29 L759.65,232.99 L760,230.69 L760.35,228.38 L760.7,226.07 L761.05,223.78 L761.4,221.5 L761.75,219.25 L762.1,217.02 L762.45,214.83 L762.8,212.68 L763.15,210.58 L763.5,208.53 L763.85,206.55 L764.2,204.63 L764.55,202.79 L764.9,201.02 L765.25,199.34 L765.6,197.75 L765.95,196.26 L766.3,194.87 L766.65,193.59 L767,192.42 L767.35,191.36 L767.7,190.42 L768.05,189.61 L768.4,188.92 L768.75,188.36 L769.1,187.94 L769.45,187.64 L769.8,187.48 L770.15,187.45 L770.5,187.56 L770.85,187.8 L771.2,188.17 L771.55,188.68 L771.9,189.32 L772.25,190.08 L772.6,190.98 L772.95,191.99 L773.3,193.13 L773.65,194.38 L774,195.75 L774.35,197.22 L774.7,198.8 L775.05,200.47 L775.4,202.23 L775.75,204.08 L776.1,206.01 L776.45,208.02 L776.8,210.09 L777.15,212.23 L777.5,214.42 L777.85,216.66 L778.2,218.94 L778.55,221.26 L778.9,223.6 L779.25,225.97 L779.6,228.36 L779.95,230.75 L780.3,233.15 L780.65,235.55 L781,237.94 L781.35,240.32 L781.7,242.68 L782.05,245.01 L782.4,247.32 L782.75,249.59 L783.1,251.82 L783.45,254.02 L783.8,256.17 L784.15,258.27 L784.5,260.32 L784.85,262.31 L785.2,264.25 L785.55,266.13 L785.9,267.95 L786.25,269.71 L786.6,271.4 L786.95,273.04 L787.3,274.6 L787.65,276.11 L788,277.54 L788.35,278.92 L788.7,280.23 L789.05,281.47 L789.4,282.65 L789.75,283.78 L790.1,284.84 L790.45,285.84 L790.8,286.79 L791.15,287.68 L791.5,288.52 L791.85,289.31 L792.2,290.04 L792.55,290.74 L792.9,291.38 L793.25,291.99 L793.6,292.55 L793.95,293.08 L794.3,293.57 L794.65,294.03 L795,294.45 L795.35,294.85 L795.7,295.23 L796.05,295.57 L796.4,295.9 L796.75,296.21 L797.1,296.5 L797.45,296.77 L797.8,297.03 L798.15,297.28 L798.5,297.52 L798.85,297.75 L799.2,297.97 L799.55,298.19 L799.9,298.4 L800.25,298.6 L800.6,298.81 L800.95,299.01 L801.3,299.21 L801.65,299.41 L802,299.61 L802.35,299.82 L802.7,300.02 L803.05,300.23 L803.4,300.44 L803.75,300.64 L804.1,300.86 L804.45,301.07 L804.8,301.29 L805.15,301.51 L805.5,301.73 L805.85,301.95 L806.2,302.17 L806.55,302.4 L806.9,302.63 L807.25,302.85 L807.6,303.08 L807.95,303.31 L808.3,303.54 L808.65,303.76 L809,303.99 L809.35,304.21 L809.7,304.43 L810.05,304.65 L810.4,304.87 L810.75,305.08 L811.1,305.29 L811.45,305.49 L811.8,305.7 L812.15,305.89 L812.5,306.08 L812.85,306.27 L813.2,306.45 L813.55,306.63 L813.9,306.8 L814.25,306.97 L814.6,307.13 L814.95,307.28 L815.3,307.43 L815.65,307.58 L816,307.71 L816.35,307.84 L816.7,307.97 L817.05,308.09 L817.4,308.2 L817.75,308.31 L818.1,308.41 L818.45,308.51 L818.8,308.6 L819.15,308.69 L819.5,308.77 L819.85,308.85 L820.2,308.92 L820.55,308.99 L820.9,309.06 L821.25,309.12 L821.6,309.17 L821.95,309.22 L822.3,309.27 L822.65,309.32 L823,309.36 L823.35,309.4 L823.7,309.43 L824.05,309.47 L824.4,309.5 L824.75,309.53 L825.1,309.55 L825.45,309.57 L825.8,309.6 L826.15,309.62 L826.5,309.63 L826.85,309.65 L827.2,309.67 L827.55,309.68 L827.9,309.69 L828.25,309.7 L828.6,309.71 L828.95,309.72 L829.3,309.73 L829.65,309.74 L830,309.75 L830.35,309.75 L830.7,309.76 L831.05,309.76 L831.4,309.77 L831.75,309.77 L832.1,309.77 L832.45,309.78 L832.8,309.78 L833.15,309.78 L833.5,309.78 L833.85,309.79 L834.2,309.79 L834.55,309.79 L834.9,309.79 L835.25,309.79 L835.6,309.79 L835.95,309.79 L836.3,309.79 L836.65,309.8 L837,309.8 L837.35,309.8 L837.7,309.8 L838.05,309.8 L838.4,309.8 L838.75,309.8 L839.1,309.8 L839.45,309.8 L839.8,309.8 L840.15,309.8 L840.5,309.8 L840.85,309.8 L841.2,309.8 L841.55,309.8 L841.9,309.8 L842.25,309.8 L842.6,309.8 L842.95,309.8 L843.3,309.8 L843.65,309.8 L844,309.8 L844.35,309.8 L844.7,309.8 L845.05,309.8 L845.4,309.8 L845.75,309.8 L846.1,309.8 L846.45,309.8 L846.8,309.8 L847.15,309.8 L847.5,309.8 L847.85,309.8 L848.2,309.8 L848.55,309.8 L848.9,309.8 L849.25,309.8 L849.6,309.8 L849.95,309.8 L850.3,309.8 L850.65,309.8 L851,309.8 L851.35,309.8 L851.7,309.8 L852.05,309.8 L852.4,309.8 L852.75,309.8 L853.1,309.8 L853.45,309.8 L853.8,309.8 L854.15,309.8 L854.5,309.8 L854.85,309.8 L855.2,309.8 L855.55,309.8 L855.9,309.8 L856.25,309.8 L856.6,309.8 L856.95,309.8 L857.3,309.8 L857.65,309.8 L858,309.8 L858.35,309.8 L858.7,309.8 L859.05,309.8 L859.4,309.8 L859.75,309.8 L860.1,309.8 L860.45,309.8 L860.8,309.8 L861.15,309.8 L861.5,309.8 L861.85,309.8 L862.2,309.8 L862.55,309.8 L862.9,309.8 L863.25,309.8 L863.6,309.8 L863.95,309.8 L864.3,309.8 L864.65,309.8 L865,309.8 L865.35,309.8 L865.7,309.8 L866.05,309.8 L866.4,309.8 L866.75,309.8 L867.1,309.8 L867.45,309.8 L867.8,309.8 L868.15,309.8 L868.5,309.8 L868.85,309.8 L869.2,309.8 L869.55,309.8 L869.9,309.8 L870.25,309.8 L870.6,309.8 L870.95,309.8 L871.3,309.8 L871.65,309.8 L872,309.8 L872.35,309.8 L872.7,309.8 L873.05,309.8 L873.4,309.8 L873.75,309.8 L874.1,309.8 L874.45,309.8 L874.8,309.8 L875.15,309.8 L875.5,309.8 L875.85,309.8 L876.2,309.8 L876.55,309.8 L876.9,309.8 L877.25,309.8 L877.6,309.8 L877.95,309.8 L878.3,309.8 L878.65,309.8 L879,309.8 L879.35,309.8 L879.7,309.8 L880.05,309.8 L880.4,309.8 L880.75,309.8 L881.1,309.8 L881.45,309.8 L881.8,309.8 L882.15,309.8 L882.5,309.8 L882.85,309.8 L883.2,309.8 L883.55,309.8 L883.9,309.8 L884.25,309.8 L884.6,309.8 L884.95,309.8 L885.3,309.8 L885.65,309.8 L886,309.8 L886.35,309.8 L886.7,309.8 L887.05,309.8 L887.4,309.8 L887.75,309.8 L888.1,309.8 L888.45,309.8 L888.8,309.8 L889.15,309.8 L889.5,309.8 L889.85,309.8 L890.2,309.8 L890.55,309.8 L890.9,309.8 L891.25,309.8 L891.6,309.8 L891.95,309.8 L892.3,309.8 L892.65,309.8 L893,309.8 L893.35,309.8 L893.7,309.8 L894.05,309.8 L894.4,309.8 L894.75,309.8 L895.1,309.8 L895.45,309.8 L895.8,309.8 L896.15,309.8 L896.5,309.8 L896.85,309.8 L897.2,309.8 L897.55,309.8 L897.9,309.8 L898.25,309.8 L898.6,309.8 L898.95,309.8 L899.3,309.8 L899.65,309.8 L900,309.8 L900.35,309.8 L900.7,309.8 L901.05,309.8 L901.4,309.8 L901.75,309.8 L902.1,309.8 L902.45,309.8 L902.8,309.8 L903.15,309.8 L903.5,309.8 L903.85,309.8 L904.2,309.8 L904.55,309.8 L904.9,309.8 L905.25,309.8 L905.6,309.8 L905.95,309.8 L906.3,309.8 L906.65,309.8 L907,309.8 L907.35,309.8 L907.7,309.8 L908.05,309.8 L908.4,309.8 L908.75,309.8 L909.1,309.8 L909.45,309.8 L909.8,309.8 L910.15,309.8 L910.5,309.8 L910.85,309.8 L911.2,309.8 L911.55,309.8 L911.9,309.8 L912.25,309.8 L912.6,309.8 L912.95,309.8 L913.3,309.8 L913.65,309.8 L914,309.8 L914.35,309.8 L914.7,309.8 L915.05,309.8 L915.4,309.8 L915.75,309.8 L916.1,309.8 L916.45,309.8 L916.8,309.8 L917.15,309.8 L917.5,309.8 L917.85,309.8 L918.2,309.8 L918.55,309.8 L918.9,309.8 L919.25,309.8 L919.6,309.8 L919.95,309.8 L920.3,309.8 L920.65,309.8 L921,309.8 L921.35,309.8 L921.7,309.8 L922.05,309.8 L922.4,309.8 L922.75,309.8 L923.1,309.8 L923.45,309.8 L923.8,309.8 L924.15,309.8 L924.5,309.8 L924.85,309.8 L925.2,309.8 L925.55,309.8 L925.9,309.8 L926.25,309.8 L926.6,309.8 L926.95,309.8 L927.3,309.8 L927.65,309.8 L928,309.8 L928.35,309.8 L928.7,309.8 L929.05,309.8 L929.4,309.8 L929.75,309.8 L930.1,309.8 L930.45,309.8 L930.8,309.8 L931.15,309.8 L931.5,309.8 L931.85,309.8 L932.2,309.8 L932.55,309.8 L932.9,309.8 L933.25,309.8 L933.6,309.8 L933.95,309.8 L934.3,309.8 L934.65,309.8 L935,309.8 L935.35,309.8 L935.7,309.8 L936.05,309.8 L936.4,309.8 L936.75,309.8 L937.1,309.8 L937.45,309.8 L937.8,309.8 L938.15,309.8 L938.5,309.8 L938.85,309.8 L939.2,309.8 L939.55,309.8 L939.9,309.8 L940.25,309.8 L940.6,309.8 L940.95,309.8 L941.3,309.8 L941.65,309.8 L942,309.8 L942.35,309.8 L942.7,309.8 L943.05,309.8 L943.4,309.8 L943.75,309.8 L944.1,309.8 L944.45,309.8 L944.8,309.8 L945.15,309.8 L945.5,309.8 L945.85,309.8 L946.2,309.8 L946.55,309.8 L946.9,309.8 L947.25,309.8 L947.6,309.8 L947.95,309.8 L948.3,309.8 L948.65,309.8 L949,309.8 L949.35,309.8 L949.7,309.8 L950.05,309.8 L950.4,309.8 L950.75,309.8 L951.1,309.8 L951.45,309.8 L951.8,309.8 L952.15,309.8 L952.5,309.8 L952.85,309.8 L953.2,309.8 L953.55,309.8 L953.9,309.8 L954.25,309.8 L954.6,309.8 L954.95,309.79 L955.3,309.79 L955.65,309.79 L956,309.79 L956.35,309.79 L956.7,309.79 L957.05,309.79 L957.4,309.78 L957.75,309.78 L958.1,309.78 L958.45,309.77 L958.8,309.77 L959.15,309.76 L959.5,309.76 L959.85,309.75 L960.2,309.74 L960.55,309.73 L960.9,309.72 L961.25,309.71 L961.6,309.69 L961.95,309.68 L962.3,309.66 L962.65,309.64 L963,309.61 L963.35,309.59 L963.7,309.56 L964.05,309.52 L964.4,309.49 L964.75,309.45 L965.1,309.4 L965.45,309.35 L965.8,309.29 L966.15,309.23 L966.5,309.15 L966.85,309.08 L967.2,308.99 L967.55,308.89 L967.9,308.79 L968.25,308.67 L968.6,308.55 L968.95,308.41 L969.3,308.26 L969.65,308.1 L970,307.92 L970.35,307.72 L970.7,307.52 L971.05,307.29 L971.4,307.04 L971.75,306.78 L972.1,306.5 L972.45,306.19 L972.8,305.87 L973.15,305.52 L973.5,305.14 L973.85,304.74 L974.2,304.32 L974.55,303.86 L974.9,303.38 L975.25,302.87 L975.6,302.33 L975.95,301.75 L976.3,301.15 L976.65,300.51 L977,299.83 L977.35,299.12 L977.7,298.37 L978.05,297.58 L978.4,296.75 L978.75,295.89 L979.1,294.97 L979.45,294.02 L979.8,293.02 L980.15,291.97 L980.5,290.87 L980.85,289.73 L981.2,288.53 L981.55,287.28 L981.9,285.97 L982.25,284.61 L982.6,283.18 L982.95,281.7 L983.3,280.15 L983.65,278.53 L984,276.84 L984.35,275.09 L984.7,273.26 L985.05,271.35 L985.4,269.37 L985.75,267.3 L986.1,265.14 L986.45,262.9 L986.8,260.57 L987.15,258.15 L987.5,255.61 L987.85,252.97 L988.2,250.21 L988.55,247.34 L988.9,244.35 L989.25,241.24 L989.6,238.02 L989.95,234.67 L990.3,231.21 L990.65,227.63 L991,223.93 L991.35,220.12 L991.7,216.19 L992.05,212.16 L992.4,208.01 L992.75,203.77 L993.1,199.42 L993.45,194.99 L993.8,190.47 L994.15,185.87 L994.5,181.19 L994.85,176.45 L995.2,171.66 L995.55,166.82 L995.9,161.94 L996.25,157.03 L996.6,152.11 L996.95,147.18 L997.3,142.26 L997.65,137.36 L998,132.5 L998.35,127.67 L998.7,122.91 L999.05,118.22 L999.4,113.61 L999.75,109.1 L1000.1,104.71 L1000.45,100.44 L1000.8,96.31 L1001.15,92.34 L1001.5,88.53 L1001.85,84.91 L1002.2,81.47 L1002.55,78.24 L1002.9,75.22 L1003.25,72.43 L1003.6,69.87 L1003.95,67.57 L1004.3,65.51 L1004.65,63.72 L1005,62.19 L1005.35,60.94 L1005.7,59.98 L1006.05,59.29 L1006.4,58.89 L1006.75,58.78 L1007.1,58.96 L1007.45,59.43 L1007.8,60.19 L1008.15,61.24 L1008.5,62.57 L1008.85,64.17 L1009.2,66.05 L1009.55,68.2 L1009.9,70.6 L1010.25,73.26 L1010.6,76.16 L1010.95,79.29 L1011.3,82.64 L1011.65,86.2 L1012,89.97 L1012.35,93.91 L1012.7,98.03 L1013.05,102.31 L1013.4,106.73 L1013.75,111.29 L1014.1,115.96 L1014.45,120.73 L1014.8,125.59 L1015.15,130.53 L1015.5,135.52 L1015.85,140.56 L1016.2,145.63 L1016.55,150.71 L1016.9,155.8 L1017.25,160.87 L1017.6,165.93 L1017.95,170.94 L1018.3,175.91 L1018.65,180.82 L1019,185.67 L1019.35,190.43 L1019.7,195.11 L1020.05,199.68 L1020.4,204.16 L1020.75,208.52 L1021.1,212.77 L1021.45,216.89 L1021.8,220.88 L1022.15,224.74 L1022.5,228.47 L1022.85,232.06 L1023.2,235.5 L1023.55,238.81 L1023.9,241.98 L1024.25,245 L1024.6,247.88 L1024.95,250.62 L1025.3,253.23 L1025.65,255.7 L1026,258.04 L1026.35,260.25 L1026.7,262.33 L1027.05,264.3 L1027.4,266.14 L1027.75,267.88 L1028.1,269.51 L1028.45,271.04 L1028.8,272.47 L1029.15,273.82 L1029.5,275.08 L1029.85,276.26 L1030.2,277.37 L1030.55,278.41 L1030.9,279.38 L1031.25,280.3 L1031.6,281.17 L1031.95,282 L1032.3,282.78 L1032.65,283.52 L1033,284.23 L1033.35,284.91 L1033.7,285.57 L1034.05,286.21 L1034.4,286.84 L1034.75,287.46 L1035.1,288.08 L1035.45,288.69 L1035.8,289.31 L1036.15,289.93 L1036.5,290.56 L1036.85,291.19 L1037.2,291.82 L1037.55,292.46 L1037.9,293.1 L1038.25,293.74 L1038.6,294.38 L1038.95,295.02 L1039.3,295.67 L1039.65,296.31 L1040,296.94 L1040.35,297.57 L1040.7,298.19 L1041.05,298.81 L1041.4,299.41 L1041.75,300 L1042.1,300.58 L1042.45,301.14 L1042.8,301.68 L1043.15,302.21 L1043.5,302.72 L1043.85,303.21 L1044.2,303.68 L1044.55,304.13 L1044.9,304.56 L1045.25,304.97 L1045.6,305.36 L1045.95,305.72 L1046.3,306.07 L1046.65,306.39 L1047,306.69 L1047.35,306.98 L1047.7,307.24 L1048.05,307.48 L1048.4,307.71 L1048.75,307.92 L1049.1,308.11 L1049.45,308.29 L1049.8,308.45 L1050.15,308.59 L1050.5,308.73 L1050.85,308.85 L1051.2,308.96 L1051.55,309.06 L1051.9,309.15 L1052.25,309.22 L1052.6,309.3 L1052.95,309.36 L1053.3,309.42 L1053.65,309.47 L1054,309.51 L1054.35,309.55 L1054.7,309.58 L1055.05,309.61 L1055.4,309.64 L1055.75,309.66 L1056.1,309.68 L1056.45,309.7 L1056.8,309.71 L1057.15,309.73 L1057.5,309.74 L1057.85,309.75 L1058.2,309.76 L1058.55,309.76 L1058.9,309.77 L1059.25,309.77 L1059.6,309.78 L1059.95,309.78 L1060.3,309.79 L1060.65,309.79 L1061,309.79 L1061.35,309.79 L1061.7,309.79 L1062.05,309.79 L1062.4,309.8 L1062.75,309.8 L1063.1,309.8 L1063.45,309.8 L1063.8,309.8 L1064.15,309.8 L1064.5,309.8 L1064.85,309.8 L1065.2,309.8 L1065.55,309.8 L1065.9,309.8 L1066.25,309.8 L1066.6,309.8 L1066.95,309.8 L1067.3,309.8 L1067.65,309.8" fill="none" stroke="#e61c1c" stroke-width="1.8" stroke-linejoin="round"/></g><path d="M708.5,26.7V318" stroke="#555" stroke-width="1.3" fill="none"/><path d="M707.9,27.4H1068.1" stroke="#111" stroke-width="1.4" fill="none"/><path d="M1067.4,26.7V318" stroke="#666" stroke-width="1.3" fill="none"/><path d="M707.9,317.3H1068.1" stroke="#555" stroke-width="1.3" fill="none"/><path d="M718.9,316.9V323.2M744.55,316.9V320.4M770.2,316.9V323.2M795.85,316.9V320.4M821.5,316.9V323.2M847.15,316.9V320.4M872.8,316.9V323.2M898.45,316.9V320.4M924.1,316.9V323.2M949.75,316.9V320.4M975.4,316.9V323.2M1001.05,316.9V320.4M1026.7,316.9V323.2M1052.35,316.9V320.4M703.2,309.8H708.5M705.6,262.6H708.5M703.2,215.4H708.5M705.6,168.2H708.5M703.2,121.1H708.5M705.6,74.0H708.5M703.2,27.4H708.5" stroke="#2a2a2a" stroke-width="1.1" fill="none"/><g font-family='"Liberation Sans", sans-serif' fill="#242424"><text x="472.32" y="343.8" font-size="15.2" text-anchor="middle">280</text><text x="411.9" y="343.8" font-size="15.2" text-anchor="middle">282</text><text x="351.48" y="343.8" font-size="15.2" text-anchor="middle">284</text><text x="291.06" y="343.8" font-size="15.2" text-anchor="middle">286</text><text x="230.64" y="343.8" font-size="15.2" text-anchor="middle">288</text><text x="170.22" y="343.8" font-size="15.2" text-anchor="middle">290</text><text x="109.8" y="343.8" font-size="15.2" text-anchor="middle">292</text><text x="78.6" y="92.1" font-size="15.6" text-anchor="end">1x10</text><text x="78.9" y="85.8" font-size="10">4</text><text x="78.6" y="206.3" font-size="15.6" text-anchor="end">5x10</text><text x="78.9" y="200" font-size="10">3</text><text x="85" y="319.6" font-size="15.6" text-anchor="end">0</text><text x="283.7" y="370.6" font-size="16.8" text-anchor="middle">BE (eV)</text><text transform="translate(26.9,162.3) rotate(-90)" text-anchor="middle" font-size="16.6">I (cps)</text><text x="100" y="39.1" font-size="16.6">C 1<tspan font-style="italic">s</tspan></text><text x="136.3" y="61.5" font-size="14">exp. data</text><text x="136.3" y="78.7" font-size="14.1">Background</text><text x="136.3" y="96" font-size="14">Envelope</text><text x="450" y="34.6" font-size="15.2" font-weight="bold">(a)</text><text x="359.2" y="41.9" font-size="15.7">C-C/C-H</text><text x="132.3" y="183.4" font-size="15">C=O</text><text x="209.6" y="183.4" font-size="15">C-O</text><text x="1026.7" y="338.7" font-size="14.6" text-anchor="middle">1020</text><text x="975.4" y="338.7" font-size="14.6" text-anchor="middle">1025</text><text x="924.1" y="338.7" font-size="14.6" text-anchor="middle">1030</text><text x="872.8" y="338.7" font-size="14.6" text-anchor="middle">1035</text><text x="821.5" y="338.7" font-size="14.6" text-anchor="middle">1040</text><text x="770.2" y="338.7" font-size="14.6" text-anchor="middle">1045</text><text x="718.9" y="338.7" font-size="14.6" text-anchor="middle">1050</text><text x="692" y="33" font-size="14.8" text-anchor="end">2x10</text><text x="692.6" y="26.8" font-size="9.4">4</text><text x="692" y="126.9" font-size="14.8" text-anchor="end">1x10</text><text x="692.6" y="120.7" font-size="9.4">4</text><text x="692" y="221.2" font-size="14.8" text-anchor="end">5x10</text><text x="692.6" y="215" font-size="9.4">3</text><text x="698.8" y="315.4" font-size="14.8" text-anchor="end">0</text><text x="888.1" y="364.6" font-size="16.2" text-anchor="middle">BE (eV)</text><text transform="translate(643.6,162.9) rotate(-90)" text-anchor="middle" font-size="16.2">I (cps)</text><text x="712.3" y="45.8" font-size="16">Zn 2<tspan font-style="italic">p</tspan></text><text x="747.4" y="61.4" font-size="13.45">exp. data</text><text x="747.8" y="78.7" font-size="13.35">Background</text><text x="747.8" y="95.8" font-size="13.35">Envelope</text><text x="1044.3" y="45" font-size="14.6" font-weight="bold">(b)</text><text x="985.5" y="46" font-size="13.5">2<tspan font-style="italic">p</tspan>(3/2)</text><text x="749.2" y="176.2" font-size="13.5">2<tspan font-style="italic">p</tspan>(1/2)</text><text x="877" y="56.8" font-size="14.4">Zn<tspan font-size="9.8" dy="-6">2+</tspan></text><text x="910" y="202" font-size="14.4">Zn</text><text x="927.6" y="196" font-size="9.8">2+</text><text x="943.2" y="202" font-size="14.9">surf.</text><text x="943.3" y="268.7" font-size="13.6">sat.1</text><text x="711.7" y="281" font-size="13.6">sat.2</text></g><circle cx="116.7" cy="56.9" r="1.4" fill="#000"/><line x1="100" y1="74" x2="133" y2="74" stroke="#c49a9a" stroke-width="1.6"/><line x1="100" y1="91.5" x2="133" y2="91.5" stroke="#ff0000" stroke-width="1.6"/><rect x="726.9" y="56.5" width="2.6" height="2.6" fill="#000"/><line x1="713" y1="74.4" x2="744" y2="74.4" stroke="#a06e6e" stroke-width="1.1"/><line x1="713" y1="91.4" x2="744" y2="91.4" stroke="#c42020" stroke-width="1.7"/><line x1="374.7" y1="45.5" x2="333.7" y2="64.2" stroke="#555" stroke-width="0.8" marker-end="url(#ah)"/><line x1="152.8" y1="186.5" x2="216.1" y2="239.7" stroke="#333" stroke-width="0.8" stroke-dasharray="4,2" marker-end="url(#ah)"/><line x1="232" y1="186.2" x2="282.2" y2="232" stroke="#444" stroke-width="0.8" marker-end="url(#ah)"/><polyline points="891.3,63.3 1005.8,61.2" fill="none" stroke="#4a4a4a" stroke-width="0.9" stroke-dasharray="18 11.7 20.6 18 15 17.3 14" marker-end="url(#ah)"/><polyline points="891.3,63.3 770.9,187" fill="none" stroke="#333" stroke-width="0.7" stroke-dasharray="18,3" marker-end="url(#ah)"/><line x1="943.7" y1="207.8" x2="800.6" y2="295.6" stroke="#444" stroke-width="0.7" stroke-dasharray="2,1" marker-end="url(#ah)"/><line x1="943.7" y1="207.8" x2="1027.7" y2="291.6" stroke="#333" stroke-width="0.8" marker-end="url(#ah)"/><line x1="969.3" y1="274.3" x2="982.9" y2="292.2" stroke="#333" stroke-width="0.8" stroke-dasharray="3,2" marker-end="url(#ah)"/><line x1="729.4" y1="284.1" x2="744.4" y2="296.3" stroke="#333" stroke-width="0.8" stroke-dasharray="3,2" marker-end="url(#ah)"/></svg>
</body></html>
